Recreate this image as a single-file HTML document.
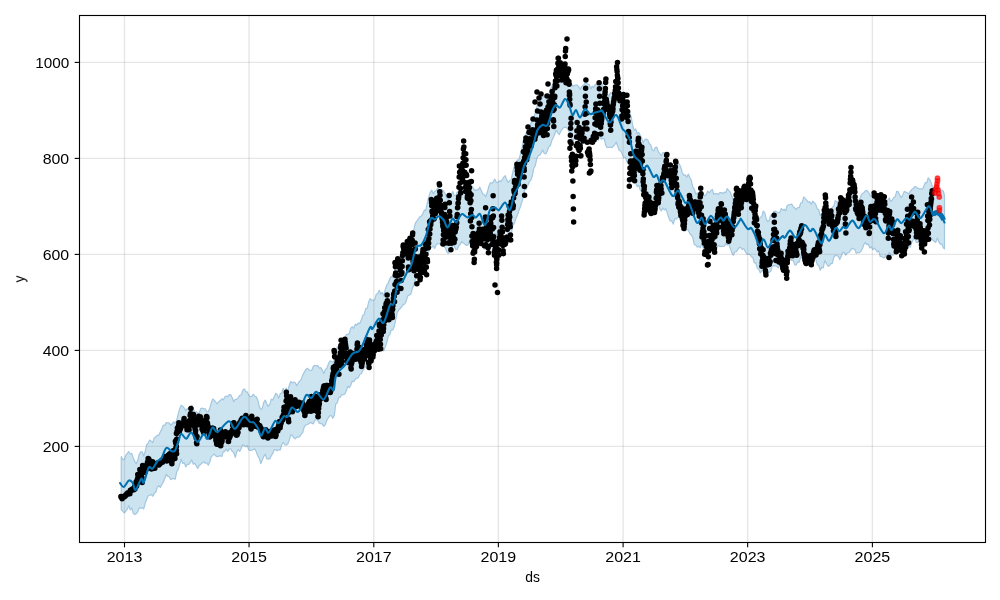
<!DOCTYPE html>
<html><head><meta charset="utf-8"><style>html,body{margin:0;padding:0;background:#fff;overflow:hidden}svg{display:block}</style></head><body>
<svg width="1000" height="600" viewBox="0 0 1000 600"><rect x="0" y="0" width="1000" height="600" fill="#ffffff"/>
<path d="M121.25 456.56 L122.75 459.6 L124.25 459.52 L125.75 455.5 L127.25 453.48 L128.75 451.71 L130.25 454.03 L131.75 453.46 L133.25 457.88 L134.75 461.28 L136.25 463.8 L137.75 460.3 L139.25 454.17 L140.75 451.9 L142.25 451.85 L143.75 456.11 L145.25 451.21 L146.75 444.56 L148.25 442.79 L149.75 440.02 L151.25 441.13 L152.75 442.66 L154.25 437.91 L155.75 436.82 L157.25 435.4 L158.75 435.36 L160.25 431.99 L161.75 429.14 L163.25 425.42 L164.75 425.39 L166.25 422.65 L167.75 422.76 L169.25 423.15 L170.75 425.2 L172.25 423.78 L173.75 421.8 L175.25 423.54 L176.75 420.07 L178.25 413.91 L179.75 408.4 L181.25 405.29 L182.75 406.31 L184.25 408.12 L185.75 410.77 L187.25 408.65 L188.75 408.84 L190.25 408.15 L191.75 405.28 L193.25 407.89 L194.75 412.78 L196.25 411.6 L197.75 413.4 L199.25 413.01 L200.75 408.48 L202.25 408.13 L203.75 408.74 L205.25 408.82 L206.75 411.53 L208.25 411.82 L209.75 408.34 L211.25 402.84 L212.75 398.98 L214.25 400.11 L215.75 402.08 L217.25 403.98 L218.75 401.52 L220.25 400.54 L221.75 398.79 L223.25 399.96 L224.75 396.95 L226.25 396.02 L227.75 396.73 L229.25 394.7 L230.75 394.83 L232.25 397.76 L233.75 401.7 L235.25 399.31 L236.75 399.5 L238.25 397.54 L239.75 395.44 L241.25 394.88 L242.75 390.2 L244.25 388.83 L245.75 391.64 L247.25 391.95 L248.75 395.27 L250.25 396.49 L251.75 396.58 L253.25 394.22 L254.75 396.2 L256.25 396.76 L257.75 399.98 L259.25 406.29 L260.75 409.44 L262.25 408.6 L263.75 402.37 L265.25 400.06 L266.75 403.7 L268.25 406.41 L269.75 404.37 L271.25 399.17 L272.75 400.1 L274.25 396.7 L275.75 393.21 L277.25 394.62 L278.75 398.18 L280.25 393.61 L281.75 392.98 L283.25 388.29 L284.75 391.2 L286.25 388.13 L287.75 391.48 L289.25 385.5 L290.75 381.33 L292.25 382.85 L293.75 382.07 L295.25 382.84 L296.75 385.75 L298.25 382.93 L299.75 381.12 L301.25 379.44 L302.75 375.13 L304.25 372.36 L305.75 369.62 L307.25 368.27 L308.75 369.56 L310.25 370.58 L311.75 370.22 L313.25 366.44 L314.75 365.32 L316.25 365.89 L317.75 365.63 L319.25 368.14 L320.75 367.67 L322.25 369.79 L323.75 373.6 L325.25 369.82 L326.75 368.5 L328.25 364.33 L329.75 361.03 L331.25 361.12 L332.75 362.24 L334.25 360.88 L335.75 352.95 L337.25 347.12 L338.75 346.64 L340.25 341.76 L341.75 339.83 L343.25 338.12 L344.75 339.54 L346.25 334.6 L347.75 334.58 L349.25 333.31 L350.75 328.14 L352.25 326.68 L353.75 328.41 L355.25 324.16 L356.75 325.12 L358.25 323.11 L359.75 323.56 L361.25 320.32 L362.75 315.3 L364.25 314.46 L365.75 308.5 L367.25 308.19 L368.75 301.68 L370.25 298.6 L371.75 300.36 L373.25 300.21 L374.75 299.55 L376.25 294.21 L377.75 293.66 L379.25 290.32 L380.75 294.08 L382.25 292.49 L383.75 296.09 L385.25 289.47 L386.75 285.19 L388.25 282.7 L389.75 278.93 L391.25 276.56 L392.75 277.2 L394.25 272.53 L395.75 264.77 L397.25 258.42 L398.75 258.2 L400.25 255.94 L401.75 254.14 L403.25 251.65 L404.75 250.78 L406.25 245.38 L407.75 245.75 L409.25 242.74 L410.75 238.81 L412.25 234.03 L413.75 230.08 L415.25 223.31 L416.75 221.16 L418.25 219.08 L419.75 216.79 L421.25 216.11 L422.75 213.92 L424.25 210.17 L425.75 210.63 L427.25 203.04 L428.75 197.09 L430.25 192.29 L431.75 190.14 L433.25 193.83 L434.75 191.18 L436.25 190.51 L437.75 187.89 L439.25 189.51 L440.75 189.43 L442.25 189.7 L443.75 191.19 L445.25 193.98 L446.75 198.14 L448.25 199.56 L449.75 197.66 L451.25 194.89 L452.75 191.51 L454.25 195.63 L455.75 195.99 L457.25 191.83 L458.75 193.06 L460.25 190.05 L461.75 186.09 L463.25 187.54 L464.75 189.92 L466.25 189.99 L467.75 191.18 L469.25 188.44 L470.75 187.26 L472.25 186.39 L473.75 189.15 L475.25 190.52 L476.75 189.8 L478.25 189.84 L479.75 187.23 L481.25 190.45 L482.75 194.09 L484.25 194.48 L485.75 196.76 L487.25 192.31 L488.75 186.72 L490.25 182.78 L491.75 183.3 L493.25 182 L494.75 179.07 L496.25 182.35 L497.75 182.52 L499.25 180.75 L500.75 181.57 L502.25 179.71 L503.75 177.14 L505.25 175.73 L506.75 179.86 L508.25 182.48 L509.75 180.5 L511.25 179.72 L512.75 172.47 L514.25 166.22 L515.75 163.23 L517.25 159.92 L518.75 160.49 L520.25 154.66 L521.75 149.25 L523.25 140.67 L524.75 137.65 L526.25 132.96 L527.75 132.16 L529.25 127.04 L530.75 124.07 L532.25 118.93 L533.75 117.62 L535.25 112.75 L536.75 107.39 L538.25 101.69 L539.75 102.94 L541.25 98.64 L542.75 97.01 L544.25 96.25 L545.75 97.06 L547.25 96.9 L548.75 94.3 L550.25 89.19 L551.75 86.94 L553.25 82.5 L554.75 81.72 L556.25 79.12 L557.75 80.12 L559.25 81.14 L560.75 78.28 L562.25 78.55 L563.75 74 L565.25 71.49 L566.75 76.72 L568.25 77.56 L569.75 80.4 L571.25 82.96 L572.75 86.36 L574.25 85.49 L575.75 85.14 L577.25 85.12 L578.75 86.8 L580.25 89.38 L581.75 86.38 L583.25 85.28 L584.75 83.52 L586.25 82.87 L587.75 84.21 L589.25 84.32 L590.75 88.83 L592.25 86.34 L593.75 87.47 L595.25 84.43 L596.75 84.62 L598.25 86.68 L599.75 85.95 L601.25 82.19 L602.75 86.4 L604.25 87.49 L605.75 89.07 L607.25 93.43 L608.75 96.52 L610.25 92.85 L611.75 93.03 L613.25 93.23 L614.75 90.29 L616.25 87.81 L617.75 89.27 L619.25 93.42 L620.75 98.54 L622.25 99.56 L623.75 103.6 L625.25 102.98 L626.75 107.42 L628.25 109.45 L629.75 113.01 L631.25 117.13 L632.75 126.02 L634.25 130.22 L635.75 128.98 L637.25 133.78 L638.75 132.51 L640.25 135.26 L641.75 138.33 L643.25 142.82 L644.75 139.82 L646.25 139.1 L647.75 140.07 L649.25 143.4 L650.75 144.93 L652.25 149.79 L653.75 150.88 L655.25 147.5 L656.75 147.21 L658.25 151.5 L659.75 153.71 L661.25 155.72 L662.75 152.83 L664.25 152.63 L665.75 155.03 L667.25 157.38 L668.75 163.77 L670.25 165.76 L671.75 169.34 L673.25 166.77 L674.75 167.94 L676.25 166.29 L677.75 163.72 L679.25 164 L680.75 167.11 L682.25 172.7 L683.75 175.36 L685.25 174.92 L686.75 177.25 L688.25 174.14 L689.75 177.15 L691.25 180.2 L692.75 187.13 L694.25 188.84 L695.75 194.24 L697.25 192.9 L698.75 195.3 L700.25 193.04 L701.75 189.89 L703.25 195.66 L704.75 195.65 L706.25 194.58 L707.75 191.03 L709.25 192.88 L710.75 190.82 L712.25 189.34 L713.75 194.29 L715.25 193.55 L716.75 193.59 L718.25 194.53 L719.75 192.71 L721.25 192.51 L722.75 193.55 L724.25 192.08 L725.75 192.65 L727.25 188.61 L728.75 190.6 L730.25 192.08 L731.75 195.78 L733.25 200.66 L734.75 198.75 L736.25 196.07 L737.75 196.83 L739.25 192.8 L740.75 193.17 L742.25 194.99 L743.75 196.86 L745.25 199.88 L746.75 200.92 L748.25 202.67 L749.75 200.25 L751.25 199.57 L752.75 204.2 L754.25 206.16 L755.75 209.84 L757.25 214.78 L758.75 219.19 L760.25 217.28 L761.75 216.75 L763.25 211.09 L764.75 212.59 L766.25 219.14 L767.75 221.74 L769.25 220.2 L770.75 215.03 L772.25 215.56 L773.75 211.52 L775.25 211.12 L776.75 212.04 L778.25 212.42 L779.75 212.67 L781.25 208.35 L782.75 210.16 L784.25 209.3 L785.75 210.76 L787.25 205.47 L788.75 204.86 L790.25 204.49 L791.75 204.05 L793.25 206.79 L794.75 208 L796.25 209.67 L797.75 207.57 L799.25 207.5 L800.75 203 L802.25 202.3 L803.75 196.82 L805.25 198.61 L806.75 200.21 L808.25 202.12 L809.75 201.84 L811.25 204.25 L812.75 201.09 L814.25 202.75 L815.75 204.5 L817.25 208.89 L818.75 209.81 L820.25 215.61 L821.75 213.69 L823.25 213.73 L824.75 208.46 L826.25 211.47 L827.75 213.28 L829.25 214.84 L830.75 212.14 L832.25 207.43 L833.75 206.28 L835.25 200.57 L836.75 202.13 L838.25 201.64 L839.75 204.83 L841.25 200.06 L842.75 201.44 L844.25 201.83 L845.75 201.35 L847.25 200.46 L848.75 197.75 L850.25 195.97 L851.75 194.27 L853.25 192.4 L854.75 196.25 L856.25 199.26 L857.75 199.72 L859.25 200.15 L860.75 196.13 L862.25 193.47 L863.75 192.81 L865.25 190.87 L866.75 190.47 L868.25 192.01 L869.75 194.5 L871.25 196.26 L872.75 195.1 L874.25 193.8 L875.75 192.23 L877.25 195.89 L878.75 200.1 L880.25 201.89 L881.75 201.06 L883.25 206.44 L884.75 206.34 L886.25 203.74 L887.75 200.11 L889.25 198.02 L890.75 201.42 L892.25 200.22 L893.75 197.59 L895.25 196.69 L896.75 191.26 L898.25 191.85 L899.75 195.42 L901.25 197.74 L902.75 194.95 L904.25 191.36 L905.75 192.17 L907.25 192.76 L908.75 194.12 L910.25 191.41 L911.75 189.52 L913.25 188.6 L914.75 186.68 L916.25 186.9 L917.75 188.32 L919.25 188.78 L920.75 188.83 L922.25 189.21 L923.75 186.58 L925.25 182.72 L926.75 182.83 L928.25 177.79 L929.75 179.53 L931.25 183.07 L932.75 187.69 L934.25 187.89 L935.75 184.89 L937.25 184.51 L938.75 185.28 L940.25 190.57 L941.75 190.38 L943.25 191.01 L944.5 195.77 L944.5 248.84 L943.25 247.79 L941.75 243.78 L940.25 244.18 L938.75 241.67 L937.25 238.1 L935.75 242.42 L934.25 241.24 L932.75 239.99 L931.25 238.65 L929.75 234.63 L928.25 233.34 L926.75 234.06 L925.25 237.14 L923.75 242.26 L922.25 242.4 L920.75 243.34 L919.25 241.41 L917.75 242.66 L916.25 242.41 L914.75 238.19 L913.25 239.54 L911.75 242.35 L910.25 247.19 L908.75 246.31 L907.25 244.41 L905.75 245.13 L904.25 249.27 L902.75 250.28 L901.25 250.34 L899.75 248.21 L898.25 247.68 L896.75 247.97 L895.25 251.64 L893.75 255 L892.25 254.86 L890.75 254.6 L889.25 252.26 L887.75 255.95 L886.25 254.78 L884.75 257.61 L883.25 257.82 L881.75 256.31 L880.25 256.51 L878.75 250.8 L877.25 251.93 L875.75 249.69 L874.25 248.16 L872.75 249.71 L871.25 246.67 L869.75 247.94 L868.25 244 L866.75 244.66 L865.25 242.43 L863.75 244.75 L862.25 249.01 L860.75 251.46 L859.25 252.54 L857.75 252.49 L856.25 253.33 L854.75 249.14 L853.25 249.02 L851.75 248.23 L850.25 251 L848.75 252.46 L847.25 253.05 L845.75 255.13 L844.25 252.66 L842.75 252.28 L841.25 256.35 L839.75 259.59 L838.25 256.18 L836.75 255.54 L835.25 255.36 L833.75 257.43 L832.25 263.38 L830.75 263.66 L829.25 265.91 L827.75 266.03 L826.25 263.1 L824.75 260.57 L823.25 267.87 L821.75 267.38 L820.25 270.33 L818.75 265.49 L817.25 264.67 L815.75 259.1 L814.25 257.33 L812.75 257.43 L811.25 259.44 L809.75 258.2 L808.25 254.81 L806.75 256.31 L805.25 254.36 L803.75 254.76 L802.25 253.99 L800.75 256.27 L799.25 262.08 L797.75 261.83 L796.25 264.79 L794.75 264.84 L793.25 260.23 L791.75 260.39 L790.25 256.08 L788.75 259.55 L787.25 259.64 L785.75 263.68 L784.25 262.82 L782.75 261.99 L781.25 263.74 L779.75 264.7 L778.25 267.94 L776.75 266.32 L775.25 265.78 L773.75 265.63 L772.25 265.86 L770.75 271.31 L769.25 272.36 L767.75 273.29 L766.25 271.42 L764.75 266.9 L763.25 266.2 L761.75 271.07 L760.25 272.79 L758.75 269.28 L757.25 268.1 L755.75 262.62 L754.25 262.79 L752.75 257.1 L751.25 256.79 L749.75 254.24 L748.25 254.3 L746.75 254.07 L745.25 251.48 L743.75 248.47 L742.25 249.42 L740.75 247.41 L739.25 247.6 L737.75 249.68 L736.25 251.84 L734.75 251.96 L733.25 255.12 L731.75 252.66 L730.25 248.36 L728.75 243.8 L727.25 245.06 L725.75 243.56 L724.25 246.26 L722.75 246.32 L721.25 246.29 L719.75 246.43 L718.25 245.25 L716.75 247.87 L715.25 246.96 L713.75 248.28 L712.25 244.4 L710.75 240.78 L709.25 245.63 L707.75 248.34 L706.25 248.4 L704.75 251.65 L703.25 248.16 L701.75 243.6 L700.25 247.7 L698.75 246.38 L697.25 247.03 L695.75 245.05 L694.25 244.6 L692.75 237.32 L691.25 234.95 L689.75 233.55 L688.25 230 L686.75 229.54 L685.25 230.96 L683.75 226.03 L682.25 223.04 L680.75 221.42 L679.25 217.27 L677.75 217.53 L676.25 219.03 L674.75 218.8 L673.25 224.07 L671.75 220.69 L670.25 220.92 L668.75 217.71 L667.25 212.84 L665.75 208.63 L664.25 209.98 L662.75 207.92 L661.25 210.97 L659.75 208.57 L658.25 204.15 L656.75 204.1 L655.25 203.87 L653.75 202.29 L652.25 200.9 L650.75 197.61 L649.25 197.14 L647.75 191.94 L646.25 193.46 L644.75 192.98 L643.25 197.96 L641.75 191.61 L640.25 190.04 L638.75 185.26 L637.25 186.65 L635.75 183.03 L634.25 182.43 L632.75 178.64 L631.25 171.83 L629.75 164.41 L628.25 162.72 L626.75 161.68 L625.25 156.8 L623.75 157.87 L622.25 154.11 L620.75 151.04 L619.25 150.45 L617.75 146.54 L616.25 142.23 L614.75 144.81 L613.25 146.26 L611.75 147.73 L610.25 147.05 L608.75 147.33 L607.25 147.56 L605.75 145.43 L604.25 138.9 L602.75 138.54 L601.25 139.17 L599.75 136.21 L598.25 140.22 L596.75 138.82 L595.25 138.33 L593.75 138.63 L592.25 140.9 L590.75 139.13 L589.25 139.27 L587.75 138.04 L586.25 137.36 L584.75 136.04 L583.25 140.68 L581.75 140.46 L580.25 142.28 L578.75 140.36 L577.25 137.76 L575.75 139.54 L574.25 138.27 L572.75 143.43 L571.25 136.94 L569.75 133.68 L568.25 130 L566.75 127.57 L565.25 127.43 L563.75 127.44 L562.25 129.04 L560.75 131.24 L559.25 134.67 L557.75 132.88 L556.25 130.17 L554.75 134 L553.25 137.75 L551.75 140.62 L550.25 145.76 L548.75 146.89 L547.25 150.97 L545.75 153.92 L544.25 153.47 L542.75 150.01 L541.25 152.93 L539.75 155.14 L538.25 155.78 L536.75 158.7 L535.25 165.81 L533.75 168.45 L532.25 176.23 L530.75 180.37 L529.25 181.94 L527.75 185.5 L526.25 189.11 L524.75 189.62 L523.25 197.6 L521.75 202.44 L520.25 207.29 L518.75 210.88 L517.25 215.61 L515.75 218.86 L514.25 223.46 L512.75 225.67 L511.25 234.37 L509.75 236.44 L508.25 236.29 L506.75 230.8 L505.25 228.2 L503.75 230.91 L502.25 232.02 L500.75 235.66 L499.25 235.67 L497.75 234.07 L496.25 234.42 L494.75 233.54 L493.25 233.52 L491.75 236.64 L490.25 237.68 L488.75 240.23 L487.25 247.34 L485.75 248.45 L484.25 249.32 L482.75 245.96 L481.25 241.84 L479.75 241.37 L478.25 243.62 L476.75 241.66 L475.25 244.76 L473.75 243.46 L472.25 243.6 L470.75 242.26 L469.25 241.56 L467.75 245.23 L466.25 245.35 L464.75 244.01 L463.25 243 L461.75 241.78 L460.25 244.4 L458.75 245.89 L457.25 249.31 L455.75 249.63 L454.25 245.96 L452.75 245.23 L451.25 249.61 L449.75 251.26 L448.25 253.32 L446.75 251.82 L445.25 247.9 L443.75 246.56 L442.25 244.84 L440.75 244.77 L439.25 243.64 L437.75 243.57 L436.25 244.72 L434.75 248.36 L433.25 245.95 L431.75 247.22 L430.25 247.56 L428.75 251.82 L427.25 256.87 L425.75 263.75 L424.25 267.5 L422.75 267.52 L421.25 273.06 L419.75 271.12 L418.25 272.83 L416.75 274.85 L415.25 279.46 L413.75 285.37 L412.25 288.53 L410.75 294.31 L409.25 295.03 L407.75 296.1 L406.25 300.64 L404.75 303.97 L403.25 304.62 L401.75 306.69 L400.25 308.52 L398.75 310.14 L397.25 312.39 L395.75 319.44 L394.25 326.76 L392.75 329.93 L391.25 329.95 L389.75 334.58 L388.25 336.19 L386.75 342.7 L385.25 346.87 L383.75 350.83 L382.25 350.3 L380.75 346.92 L379.25 344.18 L377.75 348.23 L376.25 351.59 L374.75 351.09 L373.25 356.36 L371.75 353.75 L370.25 355.85 L368.75 356.39 L367.25 362.99 L365.75 366.55 L364.25 367.97 L362.75 370.68 L361.25 373.82 L359.75 374.47 L358.25 377.65 L356.75 378.34 L355.25 379.35 L353.75 381.71 L352.25 381.07 L350.75 385.37 L349.25 387.68 L347.75 386.3 L346.25 391.08 L344.75 394.03 L343.25 394.75 L341.75 394.57 L340.25 397.17 L338.75 397.55 L337.25 402.81 L335.75 403.94 L334.25 415.66 L332.75 418.28 L331.25 415.48 L329.75 415.82 L328.25 417.86 L326.75 420.44 L325.25 424.69 L323.75 426.43 L322.25 423.92 L320.75 423.67 L319.25 423.15 L317.75 420.48 L316.25 419.15 L314.75 420.64 L313.25 423.94 L311.75 423.09 L310.25 422.36 L308.75 423.69 L307.25 424.46 L305.75 425.03 L304.25 426.82 L302.75 432.55 L301.25 434.14 L299.75 436.64 L298.25 437.11 L296.75 437.04 L295.25 438.77 L293.75 437.86 L292.25 435.43 L290.75 434.82 L289.25 440.38 L287.75 444.06 L286.25 445.12 L284.75 444.77 L283.25 442.4 L281.75 444.54 L280.25 450.01 L278.75 449.64 L277.25 450.68 L275.75 449.89 L274.25 449.5 L272.75 453.54 L271.25 455.71 L269.75 459.02 L268.25 458.82 L266.75 458.91 L265.25 454.09 L263.75 456.4 L262.25 460 L260.75 463.67 L259.25 458.05 L257.75 455.89 L256.25 451.86 L254.75 448.76 L253.25 449.5 L251.75 450.24 L250.25 450.29 L248.75 450.03 L247.25 445.48 L245.75 446.73 L244.25 445.5 L242.75 444.67 L241.25 448.15 L239.75 451.42 L238.25 449.27 L236.75 451.83 L235.25 457.4 L233.75 452.76 L232.25 451.41 L230.75 448.9 L229.25 448.78 L227.75 451.37 L226.25 448.96 L224.75 451.37 L223.25 451.91 L221.75 456.52 L220.25 455.7 L218.75 456.18 L217.25 456.71 L215.75 455.87 L214.25 454.14 L212.75 455.31 L211.25 456.87 L209.75 462 L208.25 465.29 L206.75 462.79 L205.25 463.27 L203.75 461.59 L202.25 463 L200.75 464.31 L199.25 465.57 L197.75 468.51 L196.25 465.84 L194.75 463.23 L193.25 464.2 L191.75 459.88 L190.25 462.35 L188.75 464.31 L187.25 464.28 L185.75 466.88 L184.25 462.64 L182.75 463.43 L181.25 459.07 L179.75 464.33 L178.25 469.16 L176.75 471.71 L175.25 479.06 L173.75 478.62 L172.25 478.62 L170.75 479.66 L169.25 476.61 L167.75 476.32 L166.25 474.18 L164.75 478.55 L163.25 482.19 L161.75 484.63 L160.25 487.48 L158.75 485.57 L157.25 487.45 L155.75 492.36 L154.25 493.36 L152.75 496.24 L151.25 494.45 L149.75 495.21 L148.25 495.68 L146.75 499.21 L145.25 503.08 L143.75 508.94 L142.25 507.61 L140.75 508.14 L139.25 508.05 L137.75 511.79 L136.25 513.71 L134.75 514.49 L133.25 513.28 L131.75 507.9 L130.25 509.8 L128.75 505.8 L127.25 509.23 L125.75 511.47 L124.25 512.77 L122.75 511.05 L121.25 509.8 Z" fill="#cce3f0" stroke="#a3c7e0" stroke-width="1.2" stroke-linejoin="round"/>
<g stroke="#808080" stroke-opacity="0.2" stroke-width="1.39"><line x1="124.5" y1="15.5" x2="124.5" y2="542.5"/><line x1="249.06" y1="15.5" x2="249.06" y2="542.5"/><line x1="373.8" y1="15.5" x2="373.8" y2="542.5"/><line x1="498.36" y1="15.5" x2="498.36" y2="542.5"/><line x1="623.1" y1="15.5" x2="623.1" y2="542.5"/><line x1="747.66" y1="15.5" x2="747.66" y2="542.5"/><line x1="872.4" y1="15.5" x2="872.4" y2="542.5"/><line x1="79.5" y1="446.4" x2="985.5" y2="446.4"/><line x1="79.5" y1="350.4" x2="985.5" y2="350.4"/><line x1="79.5" y1="254.4" x2="985.5" y2="254.4"/><line x1="79.5" y1="158.4" x2="985.5" y2="158.4"/><line x1="79.5" y1="62.4" x2="985.5" y2="62.4"/></g>
<path d="M120.9 496.58h.01M121.14 497.33h.01M121.38 497.1h.01M121.62 497.53h.01M121.86 497.21h.01M122.1 498.86h.01M122.25 496.96h.01M122.5 496.88h.01M122.75 497.17h.01M123 496.46h.01M123.25 497.5h.01M123.5 497.33h.01M123.75 497.37h.01M123.73 497.08h.01M123.99 496.94h.01M124.25 496.79h.01M124.5 496.57h.01M124.75 496.46h.01M125.01 496.14h.01M125.27 495.85h.01M125.56 495.82h.01M125.83 495.22h.01M126.09 494.58h.01M126.36 494.94h.01M126.62 494.09h.01M126.89 494.25h.01M127.16 494.08h.01M127.42 493.83h.01M127.69 494.21h.01M127.62 492.89h.01M127.88 492.81h.01M128.12 492.79h.01M128.38 493.04h.01M128.62 492.92h.01M128.88 492.89h.01M129.12 493.11h.01M129.38 492.83h.01M129.62 493.2h.01M129.88 493.76h.01M130.09 492.15h.01M130.31 490.36h.01M130.57 490.66h.01M130.83 490.06h.01M131.09 489.95h.01M131.35 489.86h.01M131.61 490.45h.01M131.88 489.31h.01M132.14 489.34h.01M132.4 489.23h.01M132.66 488.69h.01M132.92 489.43h.01M133.18 488.85h.01M133.44 489.01h.01M133.68 489.3h.01M133.92 489.77h.01M134.16 488.21h.01M134.4 489.25h.01M134.64 486.59h.01M134.88 489.09h.01M135.12 486.69h.01M135.36 485.42h.01M135.6 484.18h.01M135.84 484.4h.01M136.08 482.14h.01M136.29 481.5h.01M136.5 486.25h.01M136.75 484.29h.01M137 484.03h.01M137.25 482.77h.01M137.5 478.68h.01M137.75 474.42h.01M138 476.92h.01M138.25 476.76h.01M138.5 474.17h.01M138.75 477.11h.01M139 476.79h.01M139.25 474.35h.01M139.5 475.38h.01M139.83 469.49h.01M140.09 469.84h.01M140.35 471.9h.01M140.61 473.39h.01M140.87 472.93h.01M141.13 473.81h.01M141.39 476.6h.01M141.65 480.23h.01M141.91 477.47h.01M142.17 482.51h.01M142.4 468.7h.01M142.62 465.38h.01M142.86 469.53h.01M143.09 467.29h.01M143.32 468.87h.01M143.55 470.36h.01M143.79 472.45h.01M144.02 469.66h.01M144.25 471.1h.01M144.48 470.47h.01M144.71 470.48h.01M144.95 472.2h.01M145.18 467.79h.01M145.41 468.11h.01M145.64 466.69h.01M145.88 465.9h.01M146.12 467.75h.01M146.38 468.15h.01M146.62 468.96h.01M146.88 464.79h.01M147.12 464.33h.01M147.38 462.79h.01M147.62 462.84h.01M147.88 461.26h.01M148.12 458.44h.01M148.38 459.51h.01M148.62 458.85h.01M148.84 459.36h.01M149.06 459.76h.01M149.32 460.93h.01M149.58 461.53h.01M149.84 462.35h.01M150.1 464.22h.01M150.36 465.56h.01M150.62 466.98h.01M150.89 467.73h.01M151.15 466.85h.01M151.41 468.9h.01M151.67 467.9h.01M151.93 467.47h.01M152.19 468.85h.01M152.41 466.25h.01M152.62 461.8h.01M152.88 462.45h.01M153.12 464.15h.01M153.38 465.32h.01M153.62 465.13h.01M153.88 467.05h.01M154.12 465.75h.01M154.38 467.73h.01M154.62 468.21h.01M154.88 468.21h.01M155.09 465.99h.01M155.31 465.38h.01M155.57 466.1h.01M155.83 465.12h.01M156.09 465.1h.01M156.35 465.32h.01M156.61 465.16h.01M156.88 464.71h.01M157.14 465.06h.01M157.4 464.43h.01M157.66 462.97h.01M157.92 463.41h.01M158.18 462.71h.01M158.44 463.32h.01M158.68 463.93h.01M158.92 464.89h.01M159.16 464.33h.01M159.4 463.94h.01M159.64 463.54h.01M159.88 463.99h.01M160.12 462.98h.01M160.36 462.45h.01M160.6 462.65h.01M160.84 462.39h.01M161.08 461.69h.01M161.29 460.73h.01M161.5 461.08h.01M161.75 461.2h.01M162 459.9h.01M162.25 460.56h.01M162.5 462.22h.01M162.75 460.92h.01M163 460.61h.01M163.25 461.33h.01M163.5 460.26h.01M163.75 460.36h.01M164 458.26h.01M164.25 459.65h.01M164.5 458.65h.01M164.83 456.46h.01M165.09 456.97h.01M165.35 458.45h.01M165.61 458.15h.01M165.87 459.71h.01M166.13 459.45h.01M166.39 460.73h.01M166.65 459.79h.01M166.91 461.1h.01M167.17 460.78h.01M167.4 459.25h.01M167.62 456.55h.01M167.86 456.78h.01M168.09 457.04h.01M168.32 455.01h.01M168.55 456.8h.01M168.79 456.98h.01M169.02 455.52h.01M169.25 456.56h.01M169.48 453.88h.01M169.71 454.81h.01M169.95 454.43h.01M170.18 453.57h.01M170.41 456.07h.01M170.64 454.97h.01M170.88 454.14h.01M171.12 455.85h.01M171.37 460.35h.01M171.62 461.93h.01M171.87 463.67h.01M172.12 460.83h.01M172.37 458.57h.01M172.63 456.4h.01M172.88 454.8h.01M173.13 450.75h.01M173.38 455.5h.01M173.59 455.87h.01M173.81 454.42h.01M174.03 451.86h.01M174.25 453.18h.01M174.47 452.28h.01M174.69 452.45h.01M174.91 458.61h.01M175.12 455.17h.01M175.4 441.2h.01M175.64 443.12h.01M175.88 447.59h.01M176.12 449.98h.01M176.36 450.33h.01M176.6 453.87h.01M176.38 446.38h.01M176.56 441.83h.01M176.75 439.17h.01M176.94 439.27h.01M177.12 432.2h.01M176.15 440.14h.01M176.4 433.5h.01M176.64 433.45h.01M176.89 431.89h.01M177.13 431.31h.01M177.38 428.04h.01M177.62 427.96h.01M177.87 428.76h.01M178.11 428.2h.01M178.36 427.35h.01M178.6 425.52h.01M178.85 422.67h.01M179.11 427.1h.01M179.38 431.33h.01M179.61 428.81h.01M179.84 429.97h.01M180.08 429.4h.01M180.31 428.27h.01M180.55 427.58h.01M180.78 427.98h.01M181.02 425.35h.01M181.25 424.37h.01M181.48 426.09h.01M181.72 425.91h.01M181.95 423.42h.01M182.19 425.11h.01M182.42 424.56h.01M182.66 423.7h.01M182.89 424.06h.01M183.12 423.54h.01M183.37 422.41h.01M183.61 422.2h.01M183.86 420.29h.01M184.1 418.38h.01M184.36 420.93h.01M184.61 422.51h.01M184.87 422.85h.01M185.13 424.62h.01M185.39 425.15h.01M185.64 425.22h.01M185.9 425.17h.01M186.25 426.52h.01M186.5 426.18h.01M186.75 427.35h.01M187 429.71h.01M187.25 425.04h.01M187.5 426.16h.01M187.75 428.28h.01M188 427.87h.01M188.25 425.26h.01M188.5 425.31h.01M188.75 425.2h.01M189.1 429.8h.01M189.36 423.73h.01M189.61 420.59h.01M189.87 420.54h.01M190.13 415.48h.01M190.39 413.92h.01M190.64 413.58h.01M190.9 408.62h.01M191.25 424.95h.01M191.5 423.97h.01M191.75 421.14h.01M192 421.62h.01M192.25 420.88h.01M192.5 416.73h.01M192.75 418.32h.01M193 418.48h.01M193.25 419.76h.01M193.5 420.14h.01M193.75 418.87h.01M193.2 417.77h.01M193.44 414.46h.01M193.68 418.2h.01M193.92 421.43h.01M194.16 422.03h.01M194.4 423.08h.01M194.64 425.57h.01M194.88 427.59h.01M195.12 429.34h.01M195.36 432.51h.01M195.6 430.47h.01M195.84 435.19h.01M196.08 436.19h.01M196.32 438.29h.01M196.56 442.78h.01M196.8 443.66h.01M197.03 436.48h.01M197.27 425.06h.01M197.5 422.71h.01M197.75 418.88h.01M198 419.31h.01M198.25 419.41h.01M198.5 422.22h.01M198.75 416.25h.01M199 420.26h.01M199.25 420.38h.01M199.5 418.98h.01M199.75 417.38h.01M200 418.14h.01M200.25 416.84h.01M200.5 418.94h.01M200.75 421.09h.01M201 420.7h.01M201.25 422.98h.01M201.5 425.13h.01M201.75 425.37h.01M202 428.91h.01M202.25 428.39h.01M202.5 428.69h.01M202.73 430.53h.01M202.97 430.87h.01M203.2 430.94h.01M203.44 432.11h.01M203.68 432.68h.01M203.92 428.17h.01M204.16 427.45h.01M204.4 426.22h.01M204.64 423.56h.01M204.88 425.73h.01M205.12 423.07h.01M205.36 423.68h.01M205.6 420.37h.01M205.84 419.47h.01M206.08 420.94h.01M206.32 416.94h.01M206.56 416.47h.01M206.8 416.75h.01M207.03 417.7h.01M207.27 422.8h.01M207.5 423.48h.01M207.75 425.4h.01M208 425.94h.01M208.25 429.01h.01M208.5 428.16h.01M208.75 428.75h.01M209 431.51h.01M209.25 434.08h.01M209.5 431.05h.01M209.75 436.96h.01M210 432.57h.01M210.25 433.43h.01M210.5 432.54h.01M210.75 435.92h.01M211 433.73h.01M211.25 433.05h.01M211.5 434.03h.01M211.75 432.98h.01M212 431.03h.01M212.25 429.92h.01M212.5 428.06h.01M212.73 431.51h.01M212.96 428.79h.01M213.19 428.45h.01M213.42 428.41h.01M213.65 428.62h.01M213.9 430.16h.01M214.14 431.46h.01M214.39 434.74h.01M214.63 434.51h.01M214.88 432.73h.01M215.12 436.45h.01M215.37 435.44h.01M215.61 436.25h.01M215.86 440.25h.01M216.1 439.6h.01M216.35 441.49h.01M216.61 443.8h.01M216.88 444.16h.01M217.11 442.73h.01M217.34 441.2h.01M217.58 438.41h.01M217.81 442.93h.01M218.05 440.18h.01M218.28 442.02h.01M218.52 442h.01M218.75 441.44h.01M218.98 441.99h.01M219.22 439.05h.01M219.45 437.56h.01M219.69 435.52h.01M219.92 436.73h.01M220.16 434.83h.01M220.39 430.11h.01M220.62 430.83h.01M220.5 445.68h.01M220.75 445.74h.01M221 441.34h.01M221.25 442.38h.01M221.5 442.46h.01M221.75 441.2h.01M222 441.19h.01M222.25 439.34h.01M222.5 435.2h.01M222.75 436.29h.01M223 437.57h.01M223.25 437.48h.01M223.5 435.27h.01M223.75 437.26h.01M224 433.72h.01M224.25 433.79h.01M224.5 433.34h.01M224.72 432.86h.01M224.95 434.81h.01M225.18 432.45h.01M225.4 431.66h.01M225.62 434.26h.01M225.87 432.84h.01M226.11 433.17h.01M226.35 434.57h.01M226.59 435.67h.01M226.83 435.21h.01M227.07 437.36h.01M227.31 435.22h.01M227.55 434.98h.01M227.79 436.52h.01M228.03 437.41h.01M228.27 441.46h.01M228.51 441.42h.01M228.75 438.99h.01M228.99 437.88h.01M229.23 437.4h.01M229.47 437.79h.01M229.71 435.49h.01M229.95 436.85h.01M230.19 434.65h.01M230.43 432.16h.01M230.67 432.8h.01M230.91 434.17h.01M231.15 434.53h.01M231.39 432.5h.01M231.63 431.7h.01M231.88 432.77h.01M232.14 433.25h.01M232.41 429.66h.01M232.67 425.2h.01M232.94 423.6h.01M233.2 424.81h.01M233.44 423.41h.01M233.68 422.85h.01M233.92 422.84h.01M234.16 424.38h.01M234.4 427.55h.01M234.64 427.45h.01M234.88 427.33h.01M235.12 429.04h.01M235.36 428.26h.01M235.6 431.61h.01M235.84 431.96h.01M236.08 433.44h.01M236.32 432.56h.01M236.56 435.24h.01M236.8 433.3h.01M237.03 435.01h.01M237.27 434.36h.01M237.5 432h.01M237.75 432.76h.01M238 432.51h.01M238.25 427.98h.01M238.5 427.5h.01M238.75 426.05h.01M239 427.65h.01M239.25 425.16h.01M239.5 423.23h.01M239.75 424.34h.01M240 422.16h.01M240.25 425.3h.01M240.5 422.52h.01M240.75 422.85h.01M241 420.74h.01M241.25 419.87h.01M241.5 421.31h.01M241.75 421.38h.01M242 419.06h.01M242.25 418.21h.01M242.5 418.69h.01M242.77 420.53h.01M243.03 420.15h.01M243.3 423.11h.01M243.57 423h.01M243.83 424.66h.01M244.1 423.31h.01M244.36 421.85h.01M244.61 421.19h.01M244.87 420.61h.01M245.13 421.16h.01M245.39 419.35h.01M245.64 418.04h.01M245.9 415.6h.01M246.25 422.76h.01M246.5 422.53h.01M246.75 423.49h.01M247 423.26h.01M247.25 422.85h.01M247.5 424.72h.01M247.75 424.82h.01M248 422.2h.01M248.25 422.62h.01M248.5 423.77h.01M248.75 421.54h.01M248.92 419.67h.01M249.16 418.61h.01M249.4 421.27h.01M249.64 420.49h.01M249.88 423.2h.01M250.12 423.19h.01M250.36 425.38h.01M250.6 424.93h.01M250.84 428.47h.01M251.08 428.91h.01M251.29 424.23h.01M251.5 418.25h.01M251.75 416.33h.01M252 418.92h.01M252.25 420.84h.01M252.5 420.34h.01M252.75 420.41h.01M253 421.97h.01M253.25 423.79h.01M253.5 423.28h.01M253.75 423.55h.01M254 422.99h.01M254.25 423.81h.01M254.5 426.16h.01M254.83 424.45h.01M255.09 423.7h.01M255.35 423.56h.01M255.61 422.04h.01M255.87 420.17h.01M256.13 421.21h.01M256.39 421.37h.01M256.65 419.86h.01M256.91 419.52h.01M257.17 419.34h.01M257.4 423.8h.01M257.62 425.3h.01M257.86 426.39h.01M258.09 427.13h.01M258.32 425.07h.01M258.55 426.16h.01M258.79 426.08h.01M259.02 426.62h.01M259.25 425.56h.01M259.48 425.53h.01M259.71 425.71h.01M259.95 426.2h.01M260.18 427.33h.01M260.41 427.48h.01M260.64 429.29h.01M260.88 429.6h.01M261.1 428.51h.01M261.33 431.52h.01M261.59 431.56h.01M261.85 430.36h.01M262.11 433.19h.01M262.37 434.16h.01M262.63 434.85h.01M262.89 434.37h.01M263.15 436.15h.01M263.41 436.72h.01M263.67 436.76h.01M263.9 435.41h.01M264.12 431.14h.01M264.36 431.5h.01M264.59 431.13h.01M264.82 432.28h.01M265.05 431.27h.01M265.29 430.31h.01M265.52 430.22h.01M265.75 429.7h.01M265.98 431.35h.01M266.21 432.23h.01M266.45 432.67h.01M266.68 435.62h.01M266.91 434.33h.01M267.14 434.8h.01M267.38 435.82h.01M267.65 436.39h.01M267.92 438.03h.01M268.16 436.56h.01M268.4 435.17h.01M268.64 435.26h.01M268.88 435.7h.01M269.12 434.46h.01M269.36 433.47h.01M269.6 433.5h.01M269.84 432.46h.01M270.08 431.45h.01M270.29 431.76h.01M270.5 433.54h.01M270.75 432.68h.01M271 433.63h.01M271.25 432.87h.01M271.5 433.54h.01M271.75 435.94h.01M272 432.93h.01M272.25 435.11h.01M272.5 434.25h.01M272.75 433.89h.01M273 432.87h.01M273.25 434.47h.01M273.5 432.94h.01M273.71 432.05h.01M273.92 430.78h.01M274.16 430.06h.01M274.4 430.74h.01M274.64 431.37h.01M274.88 431.72h.01M275.12 432.81h.01M275.36 434.63h.01M275.6 436.4h.01M275.84 435.22h.01M276.08 434.91h.01M276.29 432.56h.01M276.5 429.25h.01M276.75 430.25h.01M277 429.7h.01M277.25 430.45h.01M277.5 429.66h.01M277.75 430.9h.01M278 430.36h.01M278.25 427.1h.01M278.5 427.79h.01M278.75 425.62h.01M279 424.37h.01M279.25 423.88h.01M279.5 421.52h.01M279.83 426.66h.01M280.09 427.68h.01M280.35 425.67h.01M280.61 424.11h.01M280.87 422.12h.01M281.13 423.02h.01M281.39 421.03h.01M281.65 420.78h.01M281.91 419.92h.01M282.17 417.15h.01M282.4 419.96h.01M282.62 420.01h.01M282.86 419.64h.01M283.09 417.52h.01M283.32 414.92h.01M283.55 415.22h.01M283.79 410.65h.01M284.02 407.28h.01M284.25 407.25h.01M284.48 408.24h.01M284.71 409.23h.01M284.95 408.44h.01M285.18 409.22h.01M285.41 408.21h.01M285.64 411.16h.01M285.88 408.29h.01M286.1 400.91h.01M286.33 392.2h.01M286.59 395.69h.01M286.85 399.7h.01M287.11 401.75h.01M287.37 405.83h.01M287.63 410.02h.01M287.89 411.39h.01M288.15 413.06h.01M288.41 419.09h.01M288.67 421.73h.01M288.9 409.72h.01M289.12 400.37h.01M289.36 400.68h.01M289.59 403.97h.01M289.82 401.99h.01M290.05 401h.01M290.29 401.09h.01M290.52 396.63h.01M290.75 402.26h.01M290.98 403.89h.01M291.21 403.91h.01M291.45 404.84h.01M291.68 406.79h.01M291.91 411.09h.01M292.14 410.23h.01M292.38 411.79h.01M292.65 408.47h.01M292.92 408.65h.01M293.16 406.72h.01M293.4 405.73h.01M293.64 406.6h.01M293.88 403.88h.01M294.12 403.02h.01M294.36 401.59h.01M294.6 401.39h.01M294.84 401.7h.01M295.08 399.8h.01M295.29 403.79h.01M295.5 406.65h.01M295.75 405.12h.01M296 403.78h.01M296.25 406.42h.01M296.5 403.85h.01M296.75 403.41h.01M297 402.18h.01M297.25 404.28h.01M297.5 404.88h.01M297.75 405.09h.01M298 404.99h.01M298.25 404.79h.01M298.5 405.49h.01M298.71 403.97h.01M298.92 402.14h.01M299.16 403.39h.01M299.4 404.07h.01M299.64 403.77h.01M299.88 404.83h.01M300.12 404.86h.01M300.36 405.53h.01M300.6 406.58h.01M300.84 406.37h.01M301.08 407.12h.01M301.29 406.01h.01M301.5 404.98h.01M301.75 404.2h.01M302 405.33h.01M302.25 403.09h.01M302.5 406.78h.01M302.75 405.5h.01M303 404.98h.01M303.25 407.7h.01M303.5 409.19h.01M303.75 410.48h.01M304 410.64h.01M304.25 410.24h.01M304.5 412.27h.01M304.83 415.45h.01M305.09 413.72h.01M305.35 412.44h.01M305.61 412.62h.01M305.87 412.04h.01M306.13 408.27h.01M306.39 407.94h.01M306.65 408.21h.01M306.91 407.65h.01M307.17 407.38h.01M307.4 405.61h.01M307.62 411.32h.01M307.86 407.74h.01M308.09 403.93h.01M308.32 407.13h.01M308.55 404.8h.01M308.79 402.96h.01M309.02 402.63h.01M309.25 401.99h.01M309.48 401.51h.01M309.71 404.05h.01M309.95 403.42h.01M310.18 408.04h.01M310.41 408.55h.01M310.64 409.48h.01M310.88 411.28h.01M311.1 403.98h.01M311.33 396.39h.01M311.59 397.69h.01M311.85 398.34h.01M312.11 398.08h.01M312.37 402.28h.01M312.63 404.63h.01M312.89 406.52h.01M313.15 406.26h.01M313.41 410.49h.01M313.67 409.32h.01M313.9 403.12h.01M314.12 398.3h.01M314.36 399.25h.01M314.59 397.86h.01M314.82 396.85h.01M315.05 396.19h.01M315.29 400.56h.01M315.52 398.91h.01M315.75 400.08h.01M315.98 399.91h.01M316.21 403h.01M316.45 404.1h.01M316.68 405.5h.01M316.91 405.74h.01M317.14 407.29h.01M317.38 411.82h.01M317.65 409.99h.01M317.92 416.58h.01M318.16 416.66h.01M318.4 412.72h.01M318.64 408.57h.01M318.88 405.53h.01M319.12 401.58h.01M319.36 403.82h.01M319.6 397.35h.01M319.84 395.68h.01M320.08 394.86h.01M320.29 396.77h.01M320.5 398.96h.01M320.75 397.14h.01M321 397.33h.01M321.25 395.45h.01M321.5 396.78h.01M321.75 394.12h.01M322 394.8h.01M322.25 394.54h.01M322.5 393.92h.01M322.75 390.68h.01M323 390.65h.01M323.25 388.88h.01M323.5 387.42h.01M323.71 387.96h.01M323.92 386.01h.01M324.16 386.1h.01M324.4 388.87h.01M324.64 388.06h.01M324.88 390.54h.01M325.12 391.11h.01M325.36 394.15h.01M325.6 398.01h.01M325.84 398.35h.01M326.08 399.39h.01M326.29 393.19h.01M326.5 385.4h.01M326.75 386.97h.01M327 385.55h.01M327.25 388.46h.01M327.5 387.96h.01M327.75 390.39h.01M328 390.99h.01M328.25 390.48h.01M328.5 387.58h.01M328.75 390.95h.01M329 386.66h.01M329.25 386.39h.01M329.5 385.56h.01M329.76 387.34h.01M330.02 388.41h.01M330.28 392.59h.01M330.52 391.79h.01M330.76 388.76h.01M331 384.98h.01M331.24 384.51h.01M331.48 384.59h.01M331.72 380.71h.01M332 381.1h.01M332.25 378.69h.01M332.5 376.25h.01M332.75 375.43h.01M333 373.83h.01M333.25 368.29h.01M333.5 367.22h.01M333.75 370.51h.01M334 367.72h.01M334.1 350.44h.01M334.36 352.11h.01M334.61 356.48h.01M334.87 357.04h.01M335.13 365.99h.01M335.39 366.54h.01M335.64 369.9h.01M335.9 372.56h.01M336.25 373.53h.01M336.5 368.88h.01M336.75 366.52h.01M337 362.6h.01M337.25 361.22h.01M337.5 359.33h.01M337.75 361.28h.01M338 358.75h.01M338.25 358.64h.01M338.5 359.13h.01M338.75 359.46h.01M338.92 374.18h.01M339.16 365.63h.01M339.4 365.22h.01M339.64 363.95h.01M339.88 360.57h.01M340.12 355.56h.01M340.36 352.76h.01M340.6 347.82h.01M340.84 345.42h.01M341.08 340.19h.01M341.29 355.06h.01M341.5 364.78h.01M341.75 361.01h.01M342 357.77h.01M342.25 354.35h.01M342.5 351.81h.01M342.75 348.52h.01M343 348.21h.01M343.25 344.32h.01M343.5 344.79h.01M343.75 344.66h.01M344 345.61h.01M344.25 344.69h.01M344.5 345.14h.01M344.71 341.52h.01M344.92 339.14h.01M345.16 341.72h.01M345.4 343.71h.01M345.64 345.54h.01M345.88 347.38h.01M346.12 347.96h.01M346.36 353.52h.01M346.6 354.2h.01M346.84 357.52h.01M347.08 361.77h.01M347.29 357.83h.01M347.5 361.5h.01M347.75 360.94h.01M348 358.03h.01M348.25 360.73h.01M348.5 359.14h.01M348.75 362.63h.01M349 361.26h.01M349.25 362.41h.01M349.5 358.14h.01M349.75 358.71h.01M350 356.42h.01M350.25 352.12h.01M350.5 354.66h.01M350.71 360.04h.01M350.92 367.69h.01M351.16 368.99h.01M351.4 363.95h.01M351.64 362.11h.01M351.88 362.44h.01M352.12 359.57h.01M352.36 356.82h.01M352.6 358.09h.01M352.84 354.75h.01M353.08 353.7h.01M353.29 355.17h.01M353.5 353.8h.01M353.75 358.04h.01M354 353.6h.01M354.25 357.28h.01M354.5 358.16h.01M354.75 355.31h.01M355 358.9h.01M355.25 354.89h.01M355.5 359.23h.01M355.75 357.39h.01M356 356.63h.01M356.25 356.22h.01M356.5 355.48h.01M356.73 353.36h.01M356.96 349.09h.01M357.19 344.86h.01M357.42 343.11h.01M357.65 347.87h.01M357.88 348.8h.01M358.12 350.37h.01M358.35 350.45h.01M358.58 350.23h.01M358.81 352.37h.01M359.12 347.26h.01M359.35 352.46h.01M359.57 353.08h.01M359.8 353.69h.01M360.02 355.29h.01M360.25 360.42h.01M360.48 360.03h.01M360.7 355.93h.01M360.93 358.87h.01M361.15 362.63h.01M361.38 359.08h.01M361.51 366.48h.01M361.76 365.5h.01M362 363.37h.01M362.25 363.04h.01M362.5 360.18h.01M362.75 355.67h.01M363 355.11h.01M363.24 352.03h.01M363.49 349.66h.01M363.68 355.76h.01M363.88 359.16h.01M364.1 359.35h.01M364.33 358.82h.01M364.56 356.13h.01M364.79 356.48h.01M365.02 353.11h.01M365.25 353.81h.01M365.48 352.01h.01M365.71 350.91h.01M365.94 351.72h.01M366.17 348.43h.01M366.4 345.35h.01M366.62 344.51h.01M366.92 339.46h.01M367.16 343.49h.01M367.4 346.09h.01M367.64 348.23h.01M367.88 352.58h.01M368.12 353.3h.01M368.36 355.41h.01M368.6 362.31h.01M368.84 363.67h.01M369.08 367.56h.01M369.29 351.89h.01M369.5 340.02h.01M369.75 343.22h.01M370 346.62h.01M370.25 353.62h.01M370.5 353.09h.01M370.75 359.21h.01M371 360.91h.01M371.25 359.66h.01M371.5 353.85h.01M371.75 353.57h.01M372 351.21h.01M372.25 348.75h.01M372.5 346.52h.01M372.71 352.32h.01M372.92 356.89h.01M373.16 354.78h.01M373.4 351.96h.01M373.64 351.53h.01M373.88 350.23h.01M374.12 349.69h.01M374.36 350.93h.01M374.6 347.58h.01M374.84 344.38h.01M375.08 343.73h.01M375.29 343.72h.01M375.5 349.5h.01M375.75 346.18h.01M376 346.67h.01M376.25 341.14h.01M376.5 342.34h.01M376.75 335.55h.01M377 340.92h.01M377.25 341.67h.01M377.5 339.12h.01M377.75 343.93h.01M378 344.11h.01M378.25 348.96h.01M378.5 349.16h.01M378.76 339.35h.01M379.02 331.12h.01M379.28 324.22h.01M379.52 325.75h.01M379.76 333.36h.01M380 336.78h.01M380.24 339.42h.01M380.48 344.34h.01M380.72 348.68h.01M381 334.14h.01M381.25 334.95h.01M381.5 328.48h.01M381.75 326.39h.01M382 321.55h.01M382.25 323.21h.01M382.5 319.95h.01M382.75 320.03h.01M383 313.74h.01M383.28 331.6h.01M383.52 328.48h.01M383.76 324.72h.01M384 320.87h.01M384.24 317.01h.01M384.48 311.65h.01M384.72 307.84h.01M385 320.69h.01M385.25 317.49h.01M385.5 312h.01M385.75 309.78h.01M386 304.37h.01M386.25 303.29h.01M386.5 304.75h.01M386.75 303.08h.01M387 304.19h.01M387.1 295.03h.01M387.36 300.69h.01M387.61 302.34h.01M387.87 306.85h.01M388.13 308.93h.01M388.39 310.57h.01M388.64 317.17h.01M388.9 319.78h.01M389.25 309.3h.01M389.5 307.77h.01M389.75 307.27h.01M390 311.27h.01M390.25 313.71h.01M390.5 311.18h.01M390.75 316.35h.01M391 312.89h.01M391.25 312.14h.01M391.5 307.69h.01M391.75 309.55h.01M391.97 310.94h.01M392.18 314.87h.01M392.4 317.5h.01M392.64 309.23h.01M392.88 305.82h.01M393.12 301.66h.01M393.36 298.18h.01M393.6 294.45h.01M393.75 293.89h.01M394 293.55h.01M394.25 296.2h.01M394.5 301.79h.01M394.75 291.12h.01M395 284.41h.01M395.25 275.22h.01M394.92 262.77h.01M395.16 262.52h.01M395.4 266.73h.01M395.64 272.98h.01M395.88 274.73h.01M396.12 275.79h.01M396.36 281.74h.01M396.6 281.59h.01M396.84 285.92h.01M397.08 292.22h.01M397.29 276.02h.01M397.5 260.5h.01M397.75 258.87h.01M398 258.97h.01M398.25 263.12h.01M398.5 263.31h.01M398.75 262.63h.01M399 264.2h.01M399.25 263.75h.01M399.5 266.72h.01M399.75 265.53h.01M400 266.58h.01M400.25 269.81h.01M400.5 265.51h.01M400.71 274.58h.01M400.92 288.53h.01M401.16 280.51h.01M401.4 273.71h.01M401.64 273.74h.01M401.88 272.48h.01M402.12 266.51h.01M402.36 260.64h.01M402.6 255.42h.01M402.84 252.72h.01M403.08 246.2h.01M403.29 245.06h.01M403.5 247.54h.01M403.75 248.96h.01M404 250.04h.01M404.25 248.87h.01M404.5 249.11h.01M404.75 247.42h.01M405 249.35h.01M405.25 249.76h.01M405.5 251.57h.01M405.75 253.04h.01M406 249.96h.01M406.25 253.64h.01M406.5 252.15h.01M406.76 251.82h.01M407.02 243.68h.01M407.28 241.58h.01M407.52 246.67h.01M407.76 250.58h.01M408 255.24h.01M408.24 258.05h.01M408.48 266.97h.01M408.72 269.63h.01M409 254.02h.01M409.25 251.6h.01M409.5 248.65h.01M409.75 244.83h.01M410 238.25h.01M410.25 241.44h.01M410.5 241.66h.01M410.75 244.04h.01M411 243.97h.01M411.28 257.14h.01M411.52 252.44h.01M411.76 249.94h.01M412 244.52h.01M412.24 240.14h.01M412.48 234.95h.01M412.72 233.11h.01M413 261.16h.01M413.25 262.09h.01M413.5 266.77h.01M413.75 266.37h.01M414 270.64h.01M414.25 266.84h.01M414.5 264.81h.01M414.75 265.83h.01M415 264.42h.01M415.1 242.98h.01M415.36 248.99h.01M415.61 256.55h.01M415.87 261.34h.01M416.13 262.95h.01M416.39 268.21h.01M416.64 275.79h.01M416.9 283.84h.01M417.25 268.57h.01M417.5 266.79h.01M417.75 267.89h.01M418 269.34h.01M418.25 267.27h.01M418.5 268.07h.01M418.75 264.7h.01M419 262.77h.01M419.25 262.74h.01M419.5 258.85h.01M419.75 256.69h.01M420.1 279.73h.01M420.36 277.61h.01M420.61 272.9h.01M420.87 270.15h.01M421.13 266.48h.01M421.39 263.53h.01M421.64 261.09h.01M421.9 259.61h.01M422.25 254.67h.01M422.5 256.06h.01M422.75 252.03h.01M423 249.59h.01M423.25 253.05h.01M423.5 249.32h.01M423.75 257.02h.01M424 258.3h.01M424.25 262.85h.01M424.5 269.47h.01M424.75 272.85h.01M424.97 262.09h.01M425.18 254.17h.01M425.4 243.95h.01M425.64 248.5h.01M425.88 254.19h.01M426.12 258.94h.01M426.36 267.2h.01M426.6 274.79h.01M426.75 260.58h.01M427 261.37h.01M427.25 259.59h.01M427.5 261.76h.01M427.75 248.06h.01M428 241.29h.01M428.25 229.52h.01M428.4 247.63h.01M428.64 243.29h.01M428.88 238.45h.01M429.12 233.86h.01M429.36 227.66h.01M429.6 221.8h.01M429.75 233.93h.01M430 229.05h.01M430.25 223.81h.01M430.5 220.82h.01M430.75 224.8h.01M431 221.99h.01M431.25 221.12h.01M431.28 199.62h.01M431.52 202.58h.01M431.76 205.83h.01M432 211.28h.01M432.24 212.18h.01M432.48 218.21h.01M432.72 216.11h.01M433 203.54h.01M433.25 213.45h.01M433.5 210.92h.01M433.75 212.2h.01M434 218.96h.01M434.25 211.69h.01M434.5 207h.01M434.75 205.26h.01M435 200.52h.01M435.28 213.77h.01M435.52 212.86h.01M435.76 209.16h.01M436 206.13h.01M436.24 205.28h.01M436.48 201.43h.01M436.72 198.18h.01M437 205.73h.01M437.25 203.55h.01M437.5 207.38h.01M437.75 207.01h.01M438 207.05h.01M438.25 205.79h.01M438.5 205.79h.01M438.75 207.86h.01M439 207.21h.01M439.28 183.66h.01M439.52 184.91h.01M439.76 191.71h.01M440 195.25h.01M440.24 200.15h.01M440.48 204.89h.01M440.72 211.54h.01M441 207.35h.01M441.25 212.08h.01M441.5 213.29h.01M441.75 214.07h.01M442 218.35h.01M442.25 218.92h.01M442.5 222.27h.01M442.75 225.52h.01M443 226.76h.01M442.92 243.98h.01M443.16 240.05h.01M443.4 234.7h.01M443.64 230.42h.01M443.88 227.61h.01M444.12 222.36h.01M444.36 216.04h.01M444.6 214.59h.01M444.84 207.45h.01M445.08 204.3h.01M445.2 242.95h.01M445.44 237.15h.01M445.68 229.81h.01M445.92 227.05h.01M446.16 218.49h.01M446.4 216.9h.01M446.64 221.66h.01M446.88 224.3h.01M447.12 227.94h.01M447.36 232.18h.01M447.6 230.56h.01M447.84 234.13h.01M448.08 234.38h.01M448.32 237.02h.01M448.56 242.77h.01M448.8 243.2h.01M449.1 195.61h.01M449.36 202.67h.01M449.61 211.48h.01M449.87 216.1h.01M450.13 225.97h.01M450.39 233.18h.01M450.64 241.54h.01M450.9 249.68h.01M451.25 243.28h.01M451.5 239.85h.01M451.75 237.87h.01M452 232.04h.01M452.25 229.49h.01M452.5 225.58h.01M452.75 228.15h.01M453 231.7h.01M453.25 234.07h.01M453.5 237.57h.01M453.75 240.73h.01M454.1 242.6h.01M454.36 238.86h.01M454.61 238.97h.01M454.87 239.35h.01M455.13 232.02h.01M455.39 230.57h.01M455.64 229.23h.01M455.9 228.99h.01M456.25 227.22h.01M456.5 223.55h.01M456.75 222.87h.01M457 216.68h.01M457.25 214.41h.01M457.5 207.66h.01M457.75 207.43h.01M458 203.18h.01M458.25 202.91h.01M458.5 198.71h.01M458.75 196.8h.01M458.97 187.29h.01M459.18 176.93h.01M459.4 165.89h.01M459.64 172.32h.01M459.88 176.69h.01M460.12 183.08h.01M460.36 188.52h.01M460.6 193.09h.01M460.75 171.07h.01M461 173.53h.01M461.25 172.45h.01M461.5 174.81h.01M461.75 170.8h.01M462 169.69h.01M462.25 165.08h.01M462.37 179.41h.01M462.62 172.26h.01M462.87 163.34h.01M463.13 157.64h.01M463.38 148.9h.01M463.63 141.08h.01M463.88 147.04h.01M464.09 153.48h.01M464.31 162.35h.01M464.53 165.55h.01M464.75 172.22h.01M464.97 175.87h.01M465.19 182.47h.01M465.41 187.22h.01M465.62 191.47h.01M465.69 153.7h.01M465.92 159.74h.01M466.15 165.13h.01M466.38 174.47h.01M466.62 175.52h.01M466.85 185.88h.01M467.08 189.89h.01M467.31 197.96h.01M467.4 196.46h.01M467.62 195.57h.01M467.85 198.38h.01M468.07 194.7h.01M468.3 193.78h.01M468.52 192.57h.01M468.75 189.55h.01M468.98 183.05h.01M469.2 182.15h.01M469.43 187.44h.01M469.65 193.26h.01M469.88 198.13h.01M470.1 202.63h.01M470.4 220.91h.01M470.64 213.87h.01M470.88 200.71h.01M471.12 194.82h.01M471.36 181.54h.01M471.6 170.78h.01M471.38 209.55h.01M471.56 216.9h.01M471.75 217.47h.01M471.94 226.87h.01M472.12 241.42h.01M471.9 236.08h.01M472.14 236.31h.01M472.38 242.88h.01M472.62 245.64h.01M472.86 246.02h.01M473.1 253.16h.01M473.12 233.42h.01M473.33 241.24h.01M473.54 244.92h.01M473.75 251.42h.01M473.96 244.23h.01M474.17 241.62h.01M474.38 234.22h.01M474.1 262.57h.01M474.36 259.16h.01M474.61 251.9h.01M474.87 248.91h.01M475.13 245.17h.01M475.39 242.13h.01M475.64 237.84h.01M475.9 234.59h.01M476.25 246.44h.01M476.5 246.61h.01M476.75 243.92h.01M477 241.51h.01M477.25 242.77h.01M477.5 240.94h.01M477.75 238.14h.01M478 238.24h.01M478.25 234.09h.01M478.5 235.12h.01M478.75 232.13h.01M479.1 223.14h.01M479.36 229.1h.01M479.61 231.9h.01M479.87 232.34h.01M480.13 235.34h.01M480.39 237.3h.01M480.64 241.59h.01M480.9 243.55h.01M481.25 237.04h.01M481.5 234.8h.01M481.75 233.46h.01M482 232.42h.01M482.25 231.05h.01M482.5 230.91h.01M482.75 229.32h.01M483 232.46h.01M483.25 229.68h.01M483.5 231.3h.01M483.75 229.24h.01M483.97 234.66h.01M484.18 238.86h.01M484.4 245.79h.01M484.64 232.77h.01M484.88 230.17h.01M485.12 221.26h.01M485.36 217.1h.01M485.6 207.87h.01M485.62 244.85h.01M485.83 238.02h.01M486.04 230.89h.01M486.25 227.39h.01M486.46 227.74h.01M486.67 227.65h.01M486.88 225.47h.01M486.6 232.42h.01M486.86 233.97h.01M487.11 236.9h.01M487.37 239.81h.01M487.63 247.14h.01M487.89 246.18h.01M488.14 247.8h.01M488.4 252.73h.01M488.75 232.42h.01M489 235.92h.01M489.25 235.76h.01M489.5 236.81h.01M489.75 237.57h.01M490 238.32h.01M490.25 233.3h.01M490.5 227.35h.01M490.75 223.18h.01M491 219.31h.01M491.25 217.14h.01M491.46 228.76h.01M491.66 236.75h.01M491.87 244.55h.01M492.12 239.5h.01M492.37 228.96h.01M492.63 217.75h.01M492.88 208.63h.01M493.13 195.74h.01M493.38 215.89h.01M493.59 227.54h.01M493.81 236.81h.01M494.03 241.61h.01M494.25 252.17h.01M494.47 255.31h.01M494.69 251.72h.01M494.91 249.87h.01M495.12 254.57h.01M495.4 242.51h.01M495.64 246.43h.01M495.88 254.06h.01M496.12 255.57h.01M496.36 262.25h.01M496.6 268.38h.01M496.38 254.67h.01M496.56 258.2h.01M496.75 263.07h.01M496.94 257.05h.01M497.12 248.5h.01M496.6 265.05h.01M496.86 259.56h.01M497.11 257.36h.01M497.37 253.49h.01M497.63 251.43h.01M497.89 243.7h.01M498.14 243.07h.01M498.4 241.34h.01M498.75 255.32h.01M499 250.29h.01M499.25 243.62h.01M499.5 239.12h.01M499.75 237.02h.01M500 231.75h.01M500.25 234.12h.01M500.5 237.55h.01M500.75 234.73h.01M501 236.65h.01M501.25 237.87h.01M501.6 216.06h.01M501.86 220.27h.01M502.11 227.15h.01M502.37 231.9h.01M502.63 237.66h.01M502.89 245.53h.01M503.14 250.71h.01M503.4 253.68h.01M503.75 242.43h.01M504 244.05h.01M504.25 243.22h.01M504.5 244.49h.01M504.75 244.04h.01M505 242.87h.01M505.25 243.91h.01M505.5 239.84h.01M505.75 242.33h.01M506 239.61h.01M506.25 238.53h.01M506.47 237.23h.01M506.68 238.44h.01M506.9 237.32h.01M507.14 229.24h.01M507.38 229.28h.01M507.62 224.61h.01M507.86 219.49h.01M508.1 215.09h.01M508.12 221.34h.01M508.33 218.76h.01M508.54 222.22h.01M508.75 224.32h.01M508.96 219.95h.01M509.17 220.21h.01M509.38 215.2h.01M509.28 206.37h.01M509.52 211.36h.01M509.76 216.98h.01M510 223.68h.01M510.24 226.68h.01M510.48 234.9h.01M510.72 240.01h.01M511 204.64h.01M511.25 201.92h.01M511.5 205.27h.01M511.75 206.93h.01M512 207.21h.01M512.25 203.12h.01M512.5 205.95h.01M512.75 207.12h.01M513 208.05h.01M513.18 205.88h.01M513.37 205.54h.01M513.62 197.9h.01M513.87 190.26h.01M514.13 191.98h.01M514.38 182.5h.01M514.63 180.4h.01M514.88 193.66h.01M515.09 193.18h.01M515.31 190.69h.01M515.53 186.71h.01M515.75 186.74h.01M515.97 185.82h.01M516.19 184.75h.01M516.41 184.02h.01M516.62 184.41h.01M516.9 164.3h.01M517.14 167.59h.01M517.38 170.92h.01M517.62 174.35h.01M517.86 180.66h.01M518.1 184.2h.01M518.12 168.62h.01M518.33 167.65h.01M518.54 169.95h.01M518.75 167.19h.01M518.96 167.51h.01M519.17 168.09h.01M519.38 169.14h.01M519.28 178.03h.01M519.52 176.85h.01M519.76 174.36h.01M520 174.43h.01M520.24 170.69h.01M520.48 169.97h.01M520.72 164.31h.01M521 166.46h.01M521.25 167.63h.01M521.5 166.02h.01M521.75 165.67h.01M522 164.89h.01M522.25 164.93h.01M522.5 165.87h.01M522.75 167.85h.01M523 168.99h.01M523.2 163.38h.01M523.4 151.7h.01M523.64 161.36h.01M523.88 170.04h.01M524.12 177.02h.01M524.36 186.62h.01M524.6 195.18h.01M524.25 170.49h.01M524.5 163.13h.01M524.75 151.2h.01M524.1 168.21h.01M524.36 162.38h.01M524.61 157.86h.01M524.87 153.47h.01M525.13 150.23h.01M525.39 146.86h.01M525.64 141.3h.01M525.9 137.89h.01M526.25 159.29h.01M526.5 156.63h.01M526.75 159.67h.01M527 156.1h.01M527.25 154.72h.01M527.5 156.25h.01M527.75 153.61h.01M528 150.77h.01M528.25 146.48h.01M528.5 144.83h.01M528.75 142.96h.01M528.92 132.19h.01M529.16 132.49h.01M529.4 132.37h.01M529.64 138.84h.01M529.88 139.57h.01M530.12 139.83h.01M530.36 143.49h.01M530.6 145.58h.01M530.84 145.69h.01M531.08 145.92h.01M531.29 139.89h.01M531.5 130.38h.01M531.75 131.22h.01M532 133.53h.01M532.25 131.36h.01M532.5 129.64h.01M532.75 131.33h.01M533 130.89h.01M533.25 131.01h.01M533.5 133.62h.01M533.75 137.47h.01M534 137.19h.01M534.25 137.85h.01M534.5 139.2h.01M534.83 139.19h.01M535.09 134.76h.01M535.35 136.59h.01M535.61 134.74h.01M535.87 134.78h.01M536.13 133.44h.01M536.39 132.43h.01M536.65 129.87h.01M536.91 131.67h.01M537.17 131.32h.01M537.4 127.88h.01M537.62 124.84h.01M537.86 127.43h.01M538.09 125.32h.01M538.32 128.04h.01M538.55 130.52h.01M538.79 131.72h.01M539.02 132.4h.01M539.25 132.85h.01M539.48 131.55h.01M539.71 131.76h.01M539.95 131.93h.01M540.18 131.33h.01M540.41 129.95h.01M540.64 129.32h.01M540.88 129.15h.01M541.09 122.04h.01M541.3 119h.01M541.51 112.43h.01M541.76 116.26h.01M542 116.29h.01M542.25 121.83h.01M542.5 125.93h.01M542.75 128.08h.01M543 131.27h.01M543.24 133.29h.01M543.49 135.48h.01M543.68 123.62h.01M543.88 117.89h.01M544.1 120.39h.01M544.33 121.09h.01M544.56 125.36h.01M544.79 124.55h.01M545.02 129.47h.01M545.25 130.18h.01M545.48 124.54h.01M545.71 118.8h.01M545.94 115.65h.01M546.17 112.74h.01M546.4 110.19h.01M546.62 110.16h.01M546.86 117.83h.01M547.1 134.76h.01M547.36 128.42h.01M547.61 123.42h.01M547.87 119.89h.01M548.13 115.87h.01M548.39 111.97h.01M548.64 106.88h.01M548.9 101.72h.01M549.25 105.48h.01M549.5 106.13h.01M549.75 108.12h.01M550 107.47h.01M550.25 109.77h.01M550.5 110.93h.01M550.75 109.17h.01M551 106.05h.01M551.25 102.42h.01M551.5 99.73h.01M551.75 95.93h.01M551.97 96.49h.01M552.19 91.59h.01M552.42 98.92h.01M552.65 101.67h.01M552.88 106.62h.01M553.12 110.53h.01M553.35 119.83h.01M553.58 120.96h.01M553.81 126.49h.01M554.12 109.35h.01M554.35 104.67h.01M554.58 97.57h.01M554.8 96.23h.01M555.02 87.84h.01M555.25 85.09h.01M555.48 80.94h.01M555.7 74.07h.01M555.92 74.95h.01M556.15 73.01h.01M556.38 70.19h.01M556.62 76.73h.01M556.87 85.9h.01M557.12 80.96h.01M557.37 73.14h.01M557.63 69.03h.01M557.88 63.15h.01M558.13 58.29h.01M558.38 58.22h.01M558.59 62.84h.01M558.81 65.46h.01M559.03 68.53h.01M559.25 71.99h.01M559.47 72.05h.01M559.69 73.34h.01M559.91 69.96h.01M560.12 69.8h.01M560.28 62.81h.01M560.52 64.4h.01M560.76 68.44h.01M561 69.36h.01M561.24 73.13h.01M561.48 76.28h.01M561.72 79.9h.01M562 69.96h.01M562.25 71.41h.01M562.5 68.57h.01M562.75 67.7h.01M563 70.17h.01M563.25 72.65h.01M563.5 73.96h.01M563.75 73.58h.01M564 73.07h.01M564.28 80.06h.01M564.52 72.67h.01M564.76 66.32h.01M565 63.96h.01M565.24 56.57h.01M565.48 50.96h.01M565.72 48.6h.01M566 82.67h.01M566.25 79.67h.01M566.5 78.25h.01M566.75 78.85h.01M567 78.9h.01M567.25 74.12h.01M567.5 72.74h.01M567.75 71.79h.01M568 69.25h.01M568.2 70.97h.01M568.4 69.12h.01M568.64 69.72h.01M568.88 81.53h.01M569.12 84.32h.01M569.36 92.04h.01M569.6 94.99h.01M569.38 95.25h.01M569.56 93.63h.01M569.75 99.25h.01M569.94 104.26h.01M570.12 105.2h.01M569.9 148.31h.01M570.14 141.63h.01M570.38 135.29h.01M570.62 128.18h.01M570.86 123.55h.01M571.1 118.28h.01M571.12 143.4h.01M571.33 156.98h.01M571.54 160.83h.01M571.75 170.98h.01M571.96 165.42h.01M572.17 160.03h.01M572.38 154.3h.01M572.37 155.77h.01M572.62 166.71h.01M572.87 180.99h.01M573.13 196.54h.01M573.38 209.08h.01M573.63 221.88h.01M573.88 164.63h.01M574.09 160.95h.01M574.31 161.45h.01M574.53 160.05h.01M574.75 159.75h.01M574.97 159.63h.01M575.19 160.46h.01M575.41 159.15h.01M575.62 164.74h.01M575.87 160.86h.01M576.12 156.36h.01M576.37 145.7h.01M576.63 137.07h.01M576.88 130.72h.01M577.13 122.55h.01M577.38 143.51h.01M577.59 145.47h.01M577.81 147.12h.01M578.03 145.94h.01M578.25 148.61h.01M578.47 147.88h.01M578.69 146.29h.01M578.91 148.34h.01M579.12 150.57h.01M579.1 127.61h.01M579.36 132.92h.01M579.61 134.81h.01M579.87 138.56h.01M580.13 145.86h.01M580.39 148.34h.01M580.64 156h.01M580.9 155.79h.01M581.25 129.5h.01M581.5 135.77h.01M581.75 131.14h.01M582 133.1h.01M582.25 137.68h.01M582.5 137.91h.01M582.75 138.91h.01M583 141.04h.01M583.25 138.84h.01M583.5 139.28h.01M583.75 140.46h.01M584.1 138.34h.01M584.36 128.81h.01M584.61 123.17h.01M584.87 114.25h.01M585.13 106.75h.01M585.39 96.28h.01M585.64 88.21h.01M585.9 79.98h.01M586.25 102.06h.01M586.5 113.21h.01M586.75 122.65h.01M587 128.92h.01M587.25 142.23h.01M587.5 152.18h.01M587.75 152.32h.01M588 152.94h.01M588.25 154.81h.01M588.5 150.81h.01M588.75 155.51h.01M589.1 148.9h.01M589.36 152.36h.01M589.61 153.75h.01M589.87 155.91h.01M590.13 159.73h.01M590.39 164.52h.01M590.64 171.75h.01M590.9 171.03h.01M591.25 140.16h.01M591.5 141.96h.01M591.75 141.84h.01M592 139.9h.01M592.25 140.8h.01M592.5 142.14h.01M592.75 139.89h.01M593 138.7h.01M593.25 136.59h.01M593.5 136.66h.01M593.75 135.91h.01M594.1 139.88h.01M594.36 135.53h.01M594.61 133.29h.01M594.87 123.91h.01M595.13 117.8h.01M595.39 112.5h.01M595.64 108.82h.01M595.9 104.08h.01M596.25 137.59h.01M596.5 134.24h.01M596.75 125.04h.01M597 121.15h.01M597.25 115.5h.01M597.5 109.71h.01M597.75 113.39h.01M598 111.49h.01M598.25 113.63h.01M598.5 112.69h.01M598.75 116.43h.01M599.1 82.69h.01M599.36 88.66h.01M599.61 96.27h.01M599.87 103.2h.01M600.13 112.12h.01M600.39 119.59h.01M600.64 127.13h.01M600.9 133.99h.01M601.25 123.4h.01M601.5 120.41h.01M601.75 118.45h.01M602 115.97h.01M602.25 112.64h.01M602.5 113.04h.01M602.75 114.61h.01M603 113.68h.01M603.25 112.13h.01M603.5 109.41h.01M603.75 109.39h.01M604.1 104.07h.01M604.36 102h.01M604.61 97.67h.01M604.87 93.9h.01M605.13 91.75h.01M605.39 88.44h.01M605.64 82.41h.01M605.9 78.97h.01M606.25 99.34h.01M606.5 101.62h.01M606.75 102.2h.01M607 105.76h.01M607.25 105.09h.01M607.5 108.22h.01M607.75 109.52h.01M608 107.03h.01M608.25 108.67h.01M608.5 106.68h.01M608.75 108.92h.01M609.01 107.54h.01M609.28 110.93h.01M609.52 113.74h.01M609.76 115.11h.01M610 116.96h.01M610.24 123.76h.01M610.48 125.1h.01M610.72 130.16h.01M611 122.06h.01M611.25 115.28h.01M611.5 117.03h.01M611.75 114.17h.01M612 113.44h.01M612.25 110.47h.01M612.5 109.97h.01M612.75 110.98h.01M613 108.78h.01M613.18 105.07h.01M613.37 104.03h.01M613.62 101.63h.01M613.87 100.45h.01M614.13 98.32h.01M614.38 97.37h.01M614.63 93.44h.01M614.88 98.17h.01M615.09 93.34h.01M615.31 90.14h.01M615.53 86.64h.01M615.75 81.4h.01M615.97 86.43h.01M616.19 86.55h.01M616.41 90.27h.01M616.62 90.01h.01M616.6 66.74h.01M616.86 69.38h.01M617.11 71.5h.01M617.37 75.13h.01M617.63 77.55h.01M617.89 78.55h.01M618.14 82.72h.01M618.4 88.03h.01M618.75 93.05h.01M619 93.81h.01M619.25 96.02h.01M619.5 98.96h.01M619.75 97.79h.01M620 100.75h.01M620.25 100.77h.01M620.5 100.34h.01M620.75 98.59h.01M621 95.75h.01M621.25 98.35h.01M621.6 118.96h.01M621.86 116.08h.01M622.11 109.87h.01M622.37 109.98h.01M622.63 105.82h.01M622.89 101.17h.01M623.14 96.72h.01M623.4 94.5h.01M623.75 112.73h.01M624 111.56h.01M624.25 107.18h.01M624.5 105.06h.01M624.75 104.56h.01M625 102.04h.01M625.25 106.76h.01M625.5 107.86h.01M625.75 113.7h.01M626 117.18h.01M626.25 116.9h.01M626.47 111.33h.01M626.68 105.01h.01M626.9 95.14h.01M627.14 101.99h.01M627.38 105.65h.01M627.62 111.48h.01M627.86 116.26h.01M628.1 121.53h.01M628.12 135.99h.01M628.33 132.93h.01M628.54 131.5h.01M628.75 133.41h.01M628.96 137.31h.01M629.17 137.53h.01M629.38 142.37h.01M629.28 186.19h.01M629.52 179.64h.01M629.76 173.62h.01M630 168.04h.01M630.24 162.28h.01M630.48 160.91h.01M630.72 153.79h.01M631 167.17h.01M631.25 168.89h.01M631.5 170.17h.01M631.75 172.72h.01M632 172.73h.01M632.25 172.74h.01M632.5 173.1h.01M632.75 173.43h.01M633 177.35h.01M633.18 171.45h.01M633.37 160.74h.01M633.62 165.31h.01M633.87 168.25h.01M634.13 172.78h.01M634.38 175.62h.01M634.63 180.65h.01M634.88 168.89h.01M635.09 162.47h.01M635.31 159.66h.01M635.53 153.23h.01M635.75 151.22h.01M635.97 154.47h.01M636.19 155.93h.01M636.41 158.31h.01M636.62 162.92h.01M636.6 167.43h.01M636.86 164.09h.01M637.11 158.2h.01M637.37 154.02h.01M637.63 151.73h.01M637.89 145.87h.01M638.14 140.48h.01M638.4 138.34h.01M638.75 143.78h.01M639 144.5h.01M639.25 152.26h.01M639.5 157.07h.01M639.75 161.68h.01M640 170.2h.01M640.25 165.53h.01M640.5 164.44h.01M640.75 158.68h.01M641 153.7h.01M641.25 150.29h.01M641.47 150.73h.01M641.68 148.74h.01M641.9 147.29h.01M642.14 154.47h.01M642.38 161.04h.01M642.62 169.47h.01M642.86 173.77h.01M643.1 181.67h.01M643.12 169.59h.01M643.33 178.89h.01M643.54 185.54h.01M643.75 194.79h.01M643.96 190.53h.01M644.17 189.04h.01M644.38 186.23h.01M644.1 215h.01M644.36 212.15h.01M644.61 208.87h.01M644.87 205.51h.01M645.13 203.29h.01M645.39 203.02h.01M645.64 197.59h.01M645.9 194h.01M646.25 197.47h.01M646.5 200.38h.01M646.75 200.28h.01M647 202.5h.01M647.25 203.75h.01M647.5 206.8h.01M647.75 206.41h.01M648 208.63h.01M648.25 209.58h.01M648.5 209.22h.01M648.75 208.88h.01M648.92 197.1h.01M649.16 201.84h.01M649.4 203.42h.01M649.64 201.65h.01M649.88 205.65h.01M650.12 206.01h.01M650.36 211.98h.01M650.6 211.03h.01M650.84 210.77h.01M651.08 213.51h.01M651.29 210.72h.01M651.5 209.03h.01M651.75 209.84h.01M652 207.75h.01M652.25 209.52h.01M652.5 205.85h.01M652.75 207.28h.01M653 203.61h.01M653.25 206.26h.01M653.5 208.25h.01M653.75 207.37h.01M654 209.9h.01M654.25 209.44h.01M654.5 212.5h.01M654.8 210.34h.01M655.1 208.86h.01M655.36 205.76h.01M655.61 204.55h.01M655.87 203.14h.01M656.13 198.35h.01M656.39 192.09h.01M656.64 190.01h.01M656.9 185.44h.01M657.25 194.67h.01M657.5 197.37h.01M657.75 194.85h.01M658 197.6h.01M658.25 202.77h.01M658.5 200.08h.01M658.75 197.87h.01M659 194.37h.01M659.25 192.26h.01M659.5 193.32h.01M659.75 185.24h.01M660.1 184.86h.01M660.36 185.43h.01M660.61 189.14h.01M660.87 185.45h.01M661.13 188.95h.01M661.39 193.19h.01M661.64 192.92h.01M661.9 192.97h.01M662.25 179.71h.01M662.5 177.53h.01M662.75 180.07h.01M663 179.72h.01M663.25 179h.01M663.5 178.78h.01M663.75 174.58h.01M664 173.22h.01M664.25 168.94h.01M664.5 168.03h.01M664.75 166.26h.01M665.1 174.11h.01M665.36 174.47h.01M665.61 169.77h.01M665.87 165.82h.01M666.13 161.47h.01M666.39 160.36h.01M666.64 155.23h.01M666.9 154.43h.01M667.25 173.08h.01M667.5 173.18h.01M667.75 173.92h.01M668 175.78h.01M668.25 173.87h.01M668.5 174.42h.01M668.75 173.97h.01M669 172.55h.01M669.25 175.77h.01M669.5 173.43h.01M669.75 175.67h.01M670.01 170.87h.01M670.28 165.04h.01M670.52 171.66h.01M670.76 172.17h.01M671 173.76h.01M671.24 180.29h.01M671.48 183.72h.01M671.72 187.49h.01M672 181.77h.01M672.25 180.8h.01M672.5 179.17h.01M672.75 177.82h.01M673 176.52h.01M673.25 174.67h.01M673.5 171.37h.01M673.75 169.87h.01M674 171.17h.01M674.1 183.1h.01M674.36 181.06h.01M674.61 173.33h.01M674.87 170.5h.01M675.13 171.54h.01M675.39 167.06h.01M675.64 161.32h.01M675.9 162.13h.01M676.25 178.13h.01M676.5 184.25h.01M676.75 186.28h.01M677 190.91h.01M677.25 194.11h.01M677.5 196.51h.01M677.75 198.12h.01M678 204.01h.01M678.25 202.45h.01M678.5 204.2h.01M678.75 207.11h.01M679.1 201.27h.01M679.36 201.96h.01M679.61 207.91h.01M679.87 206.25h.01M680.13 205.98h.01M680.39 211.37h.01M680.64 212.98h.01M680.9 215.48h.01M681.25 207.39h.01M681.5 208.02h.01M681.75 211.31h.01M682 212.56h.01M682.25 216.85h.01M682.5 219.06h.01M682.75 220.36h.01M683 225.59h.01M683.25 223.05h.01M683.5 222.3h.01M683.75 225.13h.01M683.92 228.45h.01M684.16 226.7h.01M684.4 223.73h.01M684.64 220.27h.01M684.88 216.82h.01M685.12 216.41h.01M685.36 214.44h.01M685.6 210.16h.01M685.84 209.98h.01M686.08 208.72h.01M686.29 211.04h.01M686.5 213.92h.01M686.75 214.35h.01M687 213.37h.01M687.25 213.86h.01M687.5 214.38h.01M687.75 213.55h.01M688 210.22h.01M688.25 210.22h.01M688.5 206.07h.01M688.75 206.85h.01M689 204.78h.01M689.25 203.98h.01M689.5 201.16h.01M689.38 195.47h.01M689.63 196.91h.01M689.88 200.89h.01M690.13 199.72h.01M690.38 200.01h.01M690.63 202.22h.01M690.88 205.88h.01M691.12 205.24h.01M691.37 203.03h.01M691.62 205.03h.01M691.87 209.04h.01M692.12 209.81h.01M692.37 210.72h.01M692.62 213.2h.01M692.83 210.32h.01M693.04 207.51h.01M693.25 203.58h.01M693.5 203.35h.01M693.75 204.86h.01M694 205.46h.01M694.25 203.13h.01M694.5 204.23h.01M694.75 201.89h.01M695 202.67h.01M695.25 202.01h.01M695.5 204.3h.01M695.75 205.47h.01M696 204.24h.01M696.25 204.47h.01M696.5 205.53h.01M696.75 207.66h.01M697 204.97h.01M697.25 203.78h.01M697.5 204.54h.01M697.75 202.15h.01M698 206.61h.01M698.26 210.47h.01M698.51 212.51h.01M698.77 212.99h.01M699.02 213.91h.01M699.28 216.37h.01M699.52 209.18h.01M699.76 208.6h.01M700 202.81h.01M700.24 196.92h.01M700.48 195.08h.01M700.72 188.25h.01M701 193.85h.01M701.25 206.76h.01M701.5 215.24h.01M701.75 223.15h.01M702 237.05h.01M702.25 233.63h.01M702.5 231.17h.01M702.75 232.68h.01M703 228.26h.01M703.1 218.7h.01M703.36 222.05h.01M703.61 225.48h.01M703.87 231.49h.01M704.13 240.76h.01M704.39 243.36h.01M704.64 254.18h.01M704.9 251.7h.01M705.25 235.49h.01M705.5 235.9h.01M705.75 242h.01M706 244.42h.01M706.25 246.47h.01M706.5 252.59h.01M706.75 251.74h.01M707 250.37h.01M707.25 248.87h.01M707.5 246.2h.01M707.75 243.63h.01M708.1 264.55h.01M708.36 256.7h.01M708.61 251.07h.01M708.87 243.09h.01M709.13 241.07h.01M709.39 235.49h.01M709.64 228.44h.01M709.9 221.22h.01M710.25 243.63h.01M710.5 244.26h.01M710.75 247.17h.01M711 246.34h.01M711.25 248.82h.01M711.5 248.24h.01M711.75 243.97h.01M712 239.63h.01M712.25 235.17h.01M712.5 230.23h.01M712.75 227.49h.01M712.96 228h.01M713.16 225.19h.01M713.37 226.93h.01M713.62 231.8h.01M713.87 237.14h.01M714.13 244.76h.01M714.38 248.64h.01M714.63 252.34h.01M714.88 236.55h.01M715.09 232.23h.01M715.31 229.97h.01M715.53 229.71h.01M715.75 225.13h.01M715.97 229.71h.01M716.19 226.57h.01M716.41 230.67h.01M716.62 233.01h.01M716.6 226.89h.01M716.86 223.31h.01M717.11 219.68h.01M717.37 216.8h.01M717.63 214.44h.01M717.89 214.12h.01M718.14 210.52h.01M718.4 208.74h.01M718.75 227.3h.01M719 220.35h.01M719.25 218.67h.01M719.5 217.45h.01M719.75 214.12h.01M720 211.84h.01M720.25 212.74h.01M720.5 210.79h.01M720.75 215.2h.01M721 214.72h.01M721.25 214.75h.01M721.15 203.65h.01M721.4 204.29h.01M721.64 209.74h.01M721.89 212.2h.01M722.13 214.55h.01M722.38 216.33h.01M722.62 219.72h.01M722.87 221.69h.01M723.11 225.9h.01M723.36 227.61h.01M723.6 230.98h.01M723.85 233.72h.01M724.11 222.33h.01M724.38 209.95h.01M724.61 214.33h.01M724.84 215.76h.01M725.08 215.33h.01M725.31 214.19h.01M725.55 216.93h.01M725.78 219.67h.01M726.02 223.32h.01M726.25 221.67h.01M726.48 226.13h.01M726.72 226.26h.01M726.95 228.32h.01M727.19 227.44h.01M727.42 230.86h.01M727.66 232.66h.01M727.89 233h.01M728.12 235.87h.01M728.39 237.53h.01M728.65 241.18h.01M728.9 239.96h.01M729.14 238.67h.01M729.39 238.32h.01M729.63 236.67h.01M729.88 231.49h.01M730.12 227.45h.01M730.37 230.17h.01M730.61 226.87h.01M730.86 224.58h.01M731.1 225.01h.01M731.35 223.25h.01M731.61 226.55h.01M731.88 234.7h.01M732.11 230.17h.01M732.34 227.43h.01M732.58 227.65h.01M732.81 220.71h.01M733.05 226.9h.01M733.28 221.5h.01M733.52 218.3h.01M733.75 217.66h.01M733.98 215.2h.01M734.22 213.05h.01M734.45 211.68h.01M734.69 207.63h.01M734.92 208.82h.01M735.16 206.45h.01M735.39 203.13h.01M735.62 202.79h.01M735.87 200.08h.01M736.11 195.01h.01M736.36 189.06h.01M736.6 188.37h.01M736.86 189.69h.01M737.11 192.88h.01M737.37 197.98h.01M737.63 204.18h.01M737.89 208.7h.01M738.14 210.53h.01M738.4 214.2h.01M738.75 190.45h.01M739 191.99h.01M739.25 192.97h.01M739.5 197.57h.01M739.75 202.21h.01M740 201.97h.01M740.25 201.42h.01M740.5 203.54h.01M740.75 203.93h.01M741 204.06h.01M741.25 207.87h.01M740.97 205.25h.01M741.23 200.17h.01M741.48 202.52h.01M741.74 200.76h.01M741.99 198.1h.01M742.25 199.63h.01M742.5 196.82h.01M742.75 193.59h.01M743.01 193.65h.01M743.26 192.89h.01M743.52 190.07h.01M743.77 188.8h.01M744.03 187.29h.01M744.33 191.05h.01M744.62 186.17h.01M744.86 188.33h.01M745.1 189.86h.01M745.33 191.66h.01M745.57 190.44h.01M745.81 195.21h.01M746.04 196.12h.01M746.28 197.15h.01M746.51 199.4h.01M746.75 197.35h.01M746.99 197.59h.01M747.22 197.17h.01M747.46 193.34h.01M747.69 190.73h.01M747.93 189.33h.01M748.17 188.74h.01M748.4 187.46h.01M748.64 183.15h.01M748.88 179.49h.01M749.11 178.3h.01M749.34 180.93h.01M749.58 179.07h.01M749.81 177.13h.01M750.05 178.76h.01M750.28 178.2h.01M750.52 184.03h.01M750.76 190.04h.01M751 190.34h.01M751.24 197.47h.01M751.48 201.38h.01M751.72 208.33h.01M752 191.69h.01M752.25 195.3h.01M752.5 192.85h.01M752.75 194.78h.01M753 196.47h.01M753.25 199.24h.01M753.5 203.33h.01M753.75 207.7h.01M754 211.11h.01M754.28 222.82h.01M754.52 223.01h.01M754.76 217.96h.01M755 214.13h.01M755.24 210.58h.01M755.48 207.29h.01M755.72 206.01h.01M756 217.16h.01M756.25 218.65h.01M756.5 219.78h.01M756.75 225.61h.01M757 225.73h.01M757.25 225.55h.01M757.5 231.16h.01M757.75 231.75h.01M758 234.92h.01M758.18 233.3h.01M758.37 232.47h.01M758.62 236.28h.01M758.87 239.56h.01M759.13 238.22h.01M759.38 243.87h.01M759.63 248.63h.01M759.88 239.33h.01M760.09 242.84h.01M760.31 243.82h.01M760.53 247.02h.01M760.75 254.01h.01M760.97 252.31h.01M761.19 250.51h.01M761.41 248.1h.01M761.62 248.89h.01M761.9 266.28h.01M762.14 262.86h.01M762.38 260.62h.01M762.62 256.65h.01M762.86 255.18h.01M763.1 249.82h.01M763.12 263.19h.01M763.33 262.06h.01M763.54 259.51h.01M763.75 258.69h.01M763.96 257.32h.01M764.17 259.18h.01M764.38 259.94h.01M764.1 260.1h.01M764.36 261.42h.01M764.61 262.4h.01M764.87 264.88h.01M765.13 265.52h.01M765.39 270.48h.01M765.64 272.15h.01M765.9 275.11h.01M766.25 263.62h.01M766.5 264.87h.01M766.75 264.94h.01M767 262.65h.01M767.25 264.91h.01M767.5 260.17h.01M767.75 260.37h.01M768 260.19h.01M768.25 260.25h.01M768.5 258.89h.01M768.75 258.34h.01M769.1 264.51h.01M769.36 264.32h.01M769.61 262.17h.01M769.87 262.19h.01M770.13 261.77h.01M770.39 253.36h.01M770.64 252.96h.01M770.9 255.18h.01M771.25 251.12h.01M771.5 250.18h.01M771.75 249.29h.01M772 250.44h.01M772.25 247.27h.01M772.5 249.89h.01M772.75 246.99h.01M773 240.47h.01M773.25 239.51h.01M773.5 234.62h.01M773.75 229.48h.01M774.1 215.35h.01M774.36 222.27h.01M774.61 229.34h.01M774.87 234.09h.01M775.13 240.61h.01M775.39 246.33h.01M775.64 253.63h.01M775.9 260.46h.01M776.25 232.45h.01M776.5 238.07h.01M776.75 238.22h.01M777 244.06h.01M777.25 246.7h.01M777.5 253.28h.01M777.75 250.12h.01M778 254.9h.01M778.25 253.22h.01M778.5 253.96h.01M778.75 254.22h.01M778.92 262.05h.01M779.16 261.62h.01M779.4 259.76h.01M779.64 258.81h.01M779.88 260.2h.01M780.12 255.46h.01M780.36 254.9h.01M780.6 253.5h.01M780.84 254.66h.01M781.08 253.21h.01M781.29 258.11h.01M781.5 260.25h.01M781.75 263.81h.01M782 263.41h.01M782.25 264.48h.01M782.5 265.78h.01M782.75 268.14h.01M783 267.49h.01M783.25 267.42h.01M783.5 270.2h.01M783.75 267.02h.01M784 266.49h.01M784.25 267.62h.01M784.5 268.79h.01M784.76 260.19h.01M785.02 261.9h.01M785.28 260.02h.01M785.52 262.46h.01M785.76 261.04h.01M786 267.7h.01M786.24 271.48h.01M786.48 274.56h.01M786.72 278.18h.01M787 271.58h.01M787.25 262.76h.01M787.5 259.69h.01M787.75 256.36h.01M788 251.33h.01M788.25 253.84h.01M788.5 252.47h.01M788.75 252.93h.01M789 256.07h.01M788.92 253.16h.01M789.16 251.24h.01M789.4 251.42h.01M789.64 247.95h.01M789.88 248.4h.01M790.12 244.37h.01M790.36 241.25h.01M790.6 240.63h.01M790.84 241.36h.01M791.08 238.03h.01M791.29 245.43h.01M791.5 251.32h.01M791.75 253.68h.01M792 253.72h.01M792.25 253.61h.01M792.5 250.66h.01M792.75 255.83h.01M793 254.78h.01M793.25 253.1h.01M793.5 251.66h.01M793.75 252.39h.01M794 249.6h.01M794.25 249.49h.01M794.5 245.14h.01M794.8 244.86h.01M795.1 244.56h.01M795.36 247.6h.01M795.61 248.89h.01M795.87 250.55h.01M796.13 252.21h.01M796.39 252.77h.01M796.64 255.13h.01M796.9 254.83h.01M797.25 244.39h.01M797.5 244.14h.01M797.75 242.91h.01M798 245.83h.01M798.25 243.85h.01M798.5 243.01h.01M798.75 240.59h.01M799 239.54h.01M799.25 234.92h.01M799.5 234.78h.01M799.75 231.91h.01M800.01 233.97h.01M800.28 233.4h.01M800.52 230.47h.01M800.76 231.98h.01M801 228.23h.01M801.24 228.92h.01M801.48 229h.01M801.72 225.8h.01M802 242.14h.01M802.25 242.79h.01M802.5 244.55h.01M802.75 243.61h.01M803 248.24h.01M803.25 247.05h.01M803.5 246.6h.01M803.75 249.44h.01M804 245.7h.01M803.65 252.34h.01M803.9 253.81h.01M804.14 254.68h.01M804.39 257.16h.01M804.63 254.1h.01M804.88 259.93h.01M805.12 257.01h.01M805.37 258.84h.01M805.61 262.47h.01M805.86 263.04h.01M806.1 263.5h.01M806.35 263.44h.01M806.61 260.18h.01M806.88 255.98h.01M807.11 257.49h.01M807.34 257.2h.01M807.58 256.03h.01M807.81 257.62h.01M808.05 257.61h.01M808.28 258.84h.01M808.52 261.94h.01M808.75 260.77h.01M808.98 259.12h.01M809.22 260.59h.01M809.45 257.87h.01M809.69 258.69h.01M809.92 258.35h.01M810.16 257.02h.01M810.39 255.84h.01M810.62 255.97h.01M810.86 259.08h.01M811.1 260.22h.01M811.33 264.77h.01M811.59 261.5h.01M811.85 259.3h.01M812.11 260.09h.01M812.37 257.77h.01M812.63 256.93h.01M812.89 257.59h.01M813.15 256.1h.01M813.41 252.51h.01M813.67 252.27h.01M813.9 250.86h.01M814.12 252.82h.01M814.36 249.71h.01M814.59 252.41h.01M814.82 254.38h.01M815.05 251.57h.01M815.29 254.11h.01M815.52 253.26h.01M815.75 254.23h.01M815.98 255.09h.01M816.21 252.55h.01M816.45 252.22h.01M816.68 252.99h.01M816.91 248.96h.01M817.14 252.05h.01M817.38 249.89h.01M817.62 246.43h.01M817.87 244.93h.01M818.12 244.69h.01M818.37 242.54h.01M818.62 243.51h.01M818.87 246.73h.01M819.13 249.11h.01M819.38 250.14h.01M819.63 251.73h.01M819.88 244.82h.01M820.09 242.79h.01M820.31 239.53h.01M820.53 238.18h.01M820.75 235.36h.01M820.97 235.3h.01M821.19 234.47h.01M821.41 233.93h.01M821.62 233.84h.01M821.87 230.28h.01M822.12 228.93h.01M822.37 228.93h.01M822.63 228.69h.01M822.88 227.94h.01M823.13 226.65h.01M823.38 226.32h.01M823.59 222.14h.01M823.81 217.76h.01M824.03 214.83h.01M824.25 210.36h.01M824.47 210.66h.01M824.69 211.73h.01M824.91 209.92h.01M825.12 207.5h.01M825.28 194.94h.01M825.52 197.79h.01M825.76 202.98h.01M826 205.91h.01M826.24 209.28h.01M826.48 212.81h.01M826.72 218.58h.01M827 210.73h.01M827.25 214.06h.01M827.5 212.34h.01M827.75 214.74h.01M828 221.22h.01M828.25 217.45h.01M828.5 219.91h.01M828.75 219.02h.01M829 220.6h.01M829.1 223.91h.01M829.36 219.26h.01M829.61 217.22h.01M829.87 214.39h.01M830.13 219.14h.01M830.39 213.57h.01M830.64 212.23h.01M830.9 211.08h.01M831.25 215.84h.01M831.5 216.56h.01M831.75 215.82h.01M832 221.01h.01M832.25 221.87h.01M832.5 223.3h.01M832.75 226.72h.01M833 226.4h.01M833.25 226.17h.01M833.5 230.65h.01M833.75 231.16h.01M834.1 227.19h.01M834.36 226.26h.01M834.61 225.99h.01M834.87 229.66h.01M835.13 230.84h.01M835.39 230.54h.01M835.64 233.18h.01M835.9 236.39h.01M836.25 223.43h.01M836.5 222.28h.01M836.75 222.15h.01M837 221.34h.01M837.25 222.3h.01M837.5 220.4h.01M837.75 218.53h.01M838 219.11h.01M838.25 215.97h.01M838.5 209.05h.01M838.75 209.06h.01M839.1 212.3h.01M839.36 213.16h.01M839.61 208.14h.01M839.87 209.64h.01M840.13 206.13h.01M840.39 204.08h.01M840.64 197.72h.01M840.9 198.26h.01M841.25 200.56h.01M841.5 200.67h.01M841.75 199.62h.01M842 205.4h.01M842.25 199.42h.01M842.5 200.59h.01M842.75 203.41h.01M843 201.45h.01M843.25 200.59h.01M843.5 201.09h.01M843.75 204.07h.01M844.1 205.68h.01M844.36 208.29h.01M844.61 210.73h.01M844.87 212.73h.01M845.13 218.62h.01M845.39 224.06h.01M845.64 225.88h.01M845.9 232.93h.01M846.25 210.9h.01M846.5 209.65h.01M846.75 209.65h.01M847 206.46h.01M847.25 204.73h.01M847.5 204.05h.01M847.75 202.11h.01M848 202.23h.01M848.25 198.44h.01M848.5 195.3h.01M848.75 197.15h.01M849.1 204.48h.01M849.36 201.21h.01M849.61 193.37h.01M849.87 189.73h.01M850.13 182.98h.01M850.39 179.28h.01M850.64 176.26h.01M850.9 172.25h.01M851.25 179.12h.01M851.5 181.1h.01M851.75 180.52h.01M852 182.46h.01M852.25 180.19h.01M852.5 180.03h.01M852.75 181.16h.01M853 186.17h.01M853.25 183.49h.01M853.5 186.51h.01M853.75 185.41h.01M854.1 184.81h.01M854.36 186.8h.01M854.61 188.54h.01M854.87 192.04h.01M855.13 197.09h.01M855.39 201.11h.01M855.64 208.72h.01M855.9 209.83h.01M856.25 204.72h.01M856.5 205.83h.01M856.75 207.56h.01M857 209.48h.01M857.25 212.84h.01M857.5 208.75h.01M857.75 210.35h.01M858 214.36h.01M858.25 213.59h.01M858.5 214.07h.01M858.75 213.45h.01M859.1 218.49h.01M859.36 216.68h.01M859.61 213.03h.01M859.87 210.68h.01M860.13 211.23h.01M860.39 207.94h.01M860.64 205.56h.01M860.9 202.14h.01M861.25 207.67h.01M861.5 206.44h.01M861.75 207.34h.01M862 209.21h.01M862.25 208h.01M862.5 210.8h.01M862.75 212.54h.01M863 214.49h.01M863.25 218.2h.01M863.5 222.54h.01M863.75 224.25h.01M864.1 216.24h.01M864.36 216.2h.01M864.61 216.86h.01M864.87 220.53h.01M865.13 221.92h.01M865.39 225.67h.01M865.64 226.81h.01M865.9 227.81h.01M866.25 219.94h.01M866.5 224.53h.01M866.75 223.42h.01M867 222.11h.01M867.25 223.23h.01M867.5 225.32h.01M867.75 224.85h.01M868 222.23h.01M868.25 222.3h.01M868.5 220.28h.01M868.75 218.74h.01M869.1 233.43h.01M869.36 232.75h.01M869.61 227.1h.01M869.87 221.41h.01M870.13 217.82h.01M870.39 213.4h.01M870.64 208.9h.01M870.9 206.51h.01M871.25 216.49h.01M871.5 216.02h.01M871.75 220.38h.01M872 215.43h.01M872.25 215.91h.01M872.5 214.64h.01M872.75 213.07h.01M873 213.22h.01M873.25 213.1h.01M873.5 209.7h.01M873.75 208.79h.01M874.1 193.09h.01M874.36 195.88h.01M874.61 205.75h.01M874.87 206.35h.01M875.13 211.47h.01M875.39 213.85h.01M875.64 218.61h.01M875.9 221.67h.01M876.25 208.91h.01M876.5 206.06h.01M876.75 206.25h.01M877 202.34h.01M877.25 198.79h.01M877.5 195.76h.01M877.75 196.73h.01M878 199.54h.01M878.25 202.44h.01M878.5 204.54h.01M878.75 209.89h.01M879.1 209.44h.01M879.36 206.98h.01M879.61 206h.01M879.87 205.61h.01M880.13 201.08h.01M880.39 199.81h.01M880.64 195.84h.01M880.9 194.76h.01M881.25 209.65h.01M881.5 210.13h.01M881.75 207.63h.01M882 203.3h.01M882.25 200.1h.01M882.5 199.32h.01M882.75 198.61h.01M883 200.51h.01M883.25 204.53h.01M883.5 204.89h.01M883.75 207.82h.01M884.01 203.24h.01M884.28 196.86h.01M884.52 201.86h.01M884.76 204.16h.01M885 209.53h.01M885.24 213.49h.01M885.48 219.77h.01M885.72 220.68h.01M886 220.92h.01M886.25 217.56h.01M886.5 217.48h.01M886.75 215.86h.01M887 216.35h.01M887.25 214.55h.01M887.5 210.76h.01M887.75 210.39h.01M888 212.21h.01M888.28 238.3h.01M888.52 232.99h.01M888.76 229.25h.01M889 225.72h.01M889.24 219.9h.01M889.48 213.91h.01M889.72 211.44h.01M890 218.7h.01M890.25 219.78h.01M890.5 223.75h.01M890.75 223.96h.01M891 228.6h.01M891.25 226.11h.01M891.5 221.1h.01M891.75 219.1h.01M892 220.83h.01M892.28 221.48h.01M892.52 224.75h.01M892.76 230.52h.01M893 233.21h.01M893.24 233.65h.01M893.48 239.53h.01M893.72 244.12h.01M894 246.11h.01M894.25 242.15h.01M894.5 244.48h.01M894.75 241.94h.01M895 244.15h.01M895.25 243.2h.01M895.5 243.17h.01M895.75 242.35h.01M896 242.48h.01M896.28 251.67h.01M896.52 248.52h.01M896.76 242.79h.01M897 241.22h.01M897.24 236.95h.01M897.48 232.96h.01M897.72 230.28h.01M898 247.83h.01M898.25 247.13h.01M898.5 249.24h.01M898.75 247.9h.01M899 247.49h.01M899.25 245.77h.01M899.5 244.87h.01M899.75 242.6h.01M900 243.44h.01M900.28 235.74h.01M900.52 237.92h.01M900.76 244.9h.01M901 248.41h.01M901.24 249.79h.01M901.48 250.69h.01M901.72 255.71h.01M902 249.78h.01M902.25 246.16h.01M902.5 246.38h.01M902.75 246.51h.01M903 243.62h.01M903.25 247.18h.01M903.5 248.63h.01M903.75 251.23h.01M904 253.11h.01M904.2 251.99h.01M904.4 253.97h.01M904.64 249.38h.01M904.88 247.73h.01M905.12 239.79h.01M905.36 237.94h.01M905.6 231.74h.01M905.75 246.98h.01M906 239.9h.01M906.25 233.39h.01M906.5 224.31h.01M906.75 232.94h.01M907 238.08h.01M907.25 243.44h.01M907.4 209.2h.01M907.64 216.33h.01M907.88 220.62h.01M908.12 228.72h.01M908.36 236.46h.01M908.6 242.74h.01M908.75 229.81h.01M909 230.8h.01M909.25 229.97h.01M909.5 225.81h.01M909.75 224.36h.01M910 225.85h.01M910.25 223.75h.01M910.4 224.97h.01M910.64 220.74h.01M910.88 214.29h.01M911.12 209.37h.01M911.36 205.58h.01M911.6 197.07h.01M911.75 210.62h.01M912 212.88h.01M912.25 221.43h.01M912.5 222.02h.01M912.75 224.82h.01M913 221.16h.01M913.25 223.86h.01M913.4 202.1h.01M913.64 208.44h.01M913.88 212.23h.01M914.12 212.31h.01M914.36 222.68h.01M914.6 226.86h.01M914.75 223.36h.01M915 225.95h.01M915.25 221.87h.01M915.5 226.45h.01M915.75 224.07h.01M916 229.09h.01M916.25 228.33h.01M916.28 236.85h.01M916.52 232.8h.01M916.76 227.44h.01M917 221.68h.01M917.24 220.08h.01M917.48 216.8h.01M917.72 212.25h.01M918 225.26h.01M918.25 227.45h.01M918.5 230.76h.01M918.75 230.77h.01M919 237.1h.01M919.25 232.45h.01M919.5 226.62h.01M919.75 224.9h.01M920 223.8h.01M920.28 227.24h.01M920.52 229.4h.01M920.76 230.86h.01M921 235.35h.01M921.24 240.77h.01M921.48 244.81h.01M921.72 247.95h.01M922 234.22h.01M922.25 236.3h.01M922.5 236.66h.01M922.75 238.73h.01M923 240.03h.01M923.25 233.83h.01M923.5 232.5h.01M923.75 231.84h.01M924 230.65h.01M924.2 239.62h.01M924.4 252.08h.01M924.64 244.09h.01M924.88 241.55h.01M925.12 239.03h.01M925.36 235.7h.01M925.6 233.24h.01M925.75 235.22h.01M926 236.33h.01M926.25 231.97h.01M926.5 234.6h.01M926.75 233.53h.01M927 234.57h.01M927.25 231.87h.01M927.4 204.83h.01M927.64 215.92h.01M927.88 220.62h.01M928.12 227.63h.01M928.36 233.31h.01M928.6 239.29h.01M928.75 211.36h.01M929 212.27h.01M929.25 220.08h.01M929.5 224.97h.01M929.75 219.33h.01M930 215.39h.01M930.25 209h.01M929.8 211.07h.01M930.04 210.98h.01M930.28 207.53h.01M930.52 205.53h.01M930.76 203.48h.01M931 202.07h.01M931.24 198.59h.01M931.48 199.04h.01M931.72 193.6h.01M931.96 194.07h.01M932.2 190.75h.01" fill="none" stroke="#000" stroke-width="5.5" stroke-linecap="round"/>
<circle cx="589.4" cy="173" r="2.75" fill="#000"/>
<circle cx="495" cy="285" r="2.75" fill="#000"/>
<circle cx="497.5" cy="292.5" r="2.75" fill="#000"/>
<circle cx="567" cy="39" r="2.75" fill="#000"/>
<circle cx="617.5" cy="62.5" r="2.75" fill="#000"/>
<circle cx="851" cy="167.5" r="2.75" fill="#000"/>
<circle cx="889" cy="257.5" r="2.75" fill="#000"/>
<circle cx="707.5" cy="265" r="2.75" fill="#000"/>
<circle cx="548" cy="84" r="2.75" fill="#000"/>
<circle cx="537" cy="92" r="2.75" fill="#000"/>
<circle cx="541" cy="94" r="2.75" fill="#000"/>
<circle cx="539" cy="98" r="2.75" fill="#000"/>
<circle cx="535" cy="102" r="2.75" fill="#000"/>
<circle cx="540" cy="104" r="2.75" fill="#000"/>
<circle cx="537.5" cy="111" r="2.75" fill="#000"/>
<circle cx="541" cy="112" r="2.75" fill="#000"/>
<circle cx="533" cy="119" r="2.75" fill="#000"/>
<circle cx="537" cy="120" r="2.75" fill="#000"/>
<circle cx="528" cy="127" r="2.75" fill="#000"/>
<circle cx="547" cy="96" r="2.75" fill="#000"/>
<circle cx="551" cy="98" r="2.75" fill="#000"/>
<circle cx="548" cy="107" r="2.75" fill="#000"/>
<path d="M120 483 C120.62 483.67 122.29 487.4 123.75 487 C125.21 486.6 127.29 481.35 128.75 480.6 C130.21 479.85 131.36 480.93 132.5 482.5 C133.64 484.07 134.14 490.62 135.6 490 C137.06 489.38 139.89 480 141.25 478.75 C142.61 477.5 142.5 484.38 143.75 482.5 C145 480.62 147.29 469.79 148.75 467.5 C150.21 465.21 151.04 469.83 152.5 468.75 C153.96 467.67 156.04 462.67 157.5 461 C158.96 459.33 159.79 460.92 161.25 458.75 C162.71 456.58 164.58 449.29 166.25 448 C167.92 446.71 169.79 450.57 171.25 451 C172.71 451.43 173.75 452.43 175 450.6 C176.25 448.77 177.71 442.81 178.75 440 C179.79 437.19 180 433.96 181.25 433.75 C182.5 433.54 184.58 438.96 186.25 438.75 C187.92 438.54 189.38 431.98 191.25 432.5 C193.12 433.02 195.42 441.69 197.5 441.9 C199.58 442.11 202.08 434.27 203.75 433.75 C205.42 433.23 206.04 439.79 207.5 438.75 C208.96 437.71 210.83 428.64 212.5 427.5 C214.17 426.36 214.79 432.94 217.5 431.9 C220.21 430.86 225.83 421.77 228.75 421.25 C231.67 420.73 232.5 429.48 235 428.75 C237.5 428.02 241.25 418.04 243.75 416.9 C246.25 415.76 248.33 420.97 250 421.9 C251.67 422.83 252.5 421.57 253.75 422.5 C255 423.43 256.25 425.32 257.5 427.5 C258.75 429.68 260 435.5 261.25 435.6 C262.5 435.7 263.75 428.62 265 428.1 C266.25 427.58 267.08 433.64 268.75 432.5 C270.42 431.36 273.33 422.82 275 421.25 C276.67 419.68 277.29 423.93 278.75 423.1 C280.21 422.27 282.29 417.28 283.75 416.25 C285.21 415.22 286.14 418.36 287.5 416.9 C288.86 415.44 290.23 408.33 291.9 407.5 C293.57 406.67 295.94 411.9 297.5 411.9 C299.06 411.9 299.79 410.32 301.25 407.5 C302.71 404.68 304.58 396.57 306.25 395 C307.92 393.43 309.58 398.62 311.25 398.1 C312.92 397.58 314.17 391.68 316.25 391.9 C318.33 392.12 321.46 400.13 323.75 399.4 C326.04 398.67 328.33 389.07 330 387.5 C331.67 385.93 332.71 392.08 333.75 390 C334.79 387.92 334.38 379.17 336.25 375 C338.12 370.83 342.29 368.54 345 365 C347.71 361.46 350.21 356.04 352.5 353.75 C354.79 351.46 357.08 352.71 358.75 351.25 C360.42 349.79 360.62 348.96 362.5 345 C364.38 341.04 368.33 330.21 370 327.5 C371.67 324.79 371.04 330.21 372.5 328.75 C373.96 327.29 376.88 319.79 378.75 318.75 C380.62 317.71 381.88 324.79 383.75 322.5 C385.62 320.21 388.33 308.12 390 305 C391.67 301.88 392.5 307.08 393.75 303.75 C395 300.42 396.04 288.75 397.5 285 C398.96 281.25 400.83 283.54 402.5 281.25 C404.17 278.96 406.04 273.96 407.5 271.25 C408.96 268.54 409.79 268.96 411.25 265 C412.71 261.04 414.58 250.83 416.25 247.5 C417.92 244.17 419.58 247.08 421.25 245 C422.92 242.92 425 238.33 426.25 235 C427.5 231.67 427.92 227.83 428.75 225 C429.58 222.17 430.21 218.93 431.25 218 C432.29 217.07 433.75 219.69 435 219.4 C436.25 219.11 437.29 216.15 438.75 216.25 C440.21 216.35 442.29 218.12 443.75 220 C445.21 221.88 446.04 227.71 447.5 227.5 C448.96 227.29 451.04 219.58 452.5 218.75 C453.96 217.92 455 222.92 456.25 222.5 C457.5 222.08 458.96 217.67 460 216.25 C461.04 214.83 461.25 213.79 462.5 214 C463.75 214.21 465.83 217.33 467.5 217.5 C469.17 217.67 471.08 215 472.5 215 C473.92 215 474.75 217.67 476 217.5 C477.25 217.33 478.5 212.75 480 214 C481.5 215.25 483.33 225.67 485 225 C486.67 224.33 488.33 212.92 490 210 C491.67 207.08 493.5 207.5 495 207.5 C496.5 207.5 497.33 210.83 499 210 C500.67 209.17 503.17 202.5 505 202.5 C506.83 202.5 508.5 211.25 510 210 C511.5 208.75 512.5 199.17 514 195 C515.5 190.83 517.33 189.83 519 185 C520.67 180.17 522.58 170.17 524 166 C525.42 161.83 526.08 163.08 527.5 160 C528.92 156.92 530.83 152.5 532.5 147.5 C534.17 142.5 535.83 133.75 537.5 130 C539.17 126.25 540.83 125.83 542.5 125 C544.17 124.17 545.83 127.5 547.5 125 C549.17 122.5 551.08 113.33 552.5 110 C553.92 106.67 554.75 105.42 556 105 C557.25 104.58 558.5 108.5 560 107.5 C561.5 106.5 563.5 99.42 565 99 C566.5 98.58 567.75 102.33 569 105 C570.25 107.67 571.33 114.17 572.5 115 C573.67 115.83 574.75 109.58 576 110 C577.25 110.42 578.5 117.67 580 117.5 C581.5 117.33 583.33 109.58 585 109 C586.67 108.42 588.33 113.42 590 114 C591.67 114.58 593.33 112.96 595 112.5 C596.67 112.04 598.75 111.46 600 111.25 C601.25 111.04 600.93 109.38 602.5 111.25 C604.07 113.12 607.11 121.88 609.4 122.5 C611.69 123.12 614.07 113.96 616.25 115 C618.43 116.04 621.04 126.04 622.5 128.75 C623.96 131.46 623.75 129.38 625 131.25 C626.25 133.12 628.54 136.04 630 140 C631.46 143.96 632.08 151.38 633.75 155 C635.42 158.62 638.41 159.33 640 161.7 C641.59 164.07 642.05 168.52 643.3 169.2 C644.55 169.88 645.83 164.55 647.5 165.8 C649.17 167.05 651.77 175.17 653.3 176.7 C654.83 178.23 655.58 174.03 656.7 175 C657.82 175.97 658.75 181.53 660 182.5 C661.25 183.47 662.12 178.58 664.2 180.8 C666.28 183.02 670.15 194.13 672.5 195.8 C674.85 197.47 676.22 189.68 678.3 190.8 C680.38 191.92 683.18 200.42 685 202.5 C686.82 204.58 687.25 199.97 689.2 203.3 C691.15 206.63 694.62 220.13 696.7 222.5 C698.78 224.87 700.32 217.22 701.7 217.5 C703.08 217.78 703.48 224.48 705 224.2 C706.52 223.92 709 216.22 710.8 215.8 C712.6 215.38 714.13 221.42 715.8 221.7 C717.47 221.98 719.55 217.65 720.8 217.5 C722.05 217.35 722.18 220.93 723.3 220.8 C724.42 220.67 725.68 215.58 727.5 216.7 C729.32 217.82 732.12 226.95 734.2 227.5 C736.28 228.05 738.83 221.35 740 220 C741.17 218.65 740 217.94 741.25 219.4 C742.5 220.86 745.83 227.3 747.5 228.75 C749.17 230.2 750 227.06 751.25 228.1 C752.5 229.14 753.64 232.08 755 235 C756.36 237.92 757.94 244.87 759.4 245.6 C760.86 246.33 762.3 239.08 763.75 239.4 C765.2 239.72 766.43 247.72 768.1 247.5 C769.77 247.28 772.18 239.14 773.75 238.1 C775.32 237.06 776.04 241.56 777.5 241.25 C778.96 240.94 781.25 236.88 782.5 236.25 C783.75 235.62 783.75 238.44 785 237.5 C786.25 236.56 788.12 230.6 790 230.6 C791.88 230.6 793.85 238.43 796.25 237.5 C798.65 236.57 802.11 226.04 804.4 225 C806.69 223.96 808.44 230.52 810 231.25 C811.56 231.98 811.88 227.43 813.75 229.4 C815.62 231.38 819.38 242.17 821.25 243.1 C823.12 244.03 823.64 235.42 825 235 C826.36 234.58 827.63 241.75 829.4 240.6 C831.17 239.45 833.93 229.66 835.6 228.1 C837.27 226.54 838.15 231.45 839.4 231.25 C840.65 231.05 841.96 227.43 843.1 226.9 C844.24 226.38 844.68 229.15 846.25 228.1 C847.82 227.05 850.42 220.6 852.5 220.6 C854.58 220.6 856.46 228.93 858.75 228.1 C861.04 227.27 864.38 216.63 866.25 215.6 C868.12 214.57 868.54 221.27 870 221.9 C871.46 222.53 872.71 217.53 875 219.4 C877.29 221.27 881.46 232.07 883.75 233.1 C886.04 234.13 887.39 226.12 888.75 225.6 C890.11 225.08 890.54 231.03 891.9 230 C893.26 228.97 895.34 220.55 896.9 219.4 C898.46 218.25 899.69 223.32 901.25 223.1 C902.81 222.88 904.79 218.72 906.25 218.1 C907.71 217.48 908.54 220.43 910 219.4 C911.46 218.37 913.23 212.12 915 211.9 C916.77 211.68 918.31 219.04 920.6 218.1 C922.89 217.16 926.67 206.77 928.75 206.25 C930.83 205.73 931.64 213.96 933.1 215 C934.56 216.04 935.93 211.88 937.5 212.5 C939.07 213.12 941.33 217.08 942.5 218.75 C943.67 220.42 944.17 221.88 944.5 222.5" fill="none" stroke="#0072B2" stroke-width="2.08" stroke-linejoin="round" stroke-linecap="round"/>
<path d="M933.2 214.5 C935 212.5 936.5 212.3 938 213 C940 213.8 942 215.5 943.6 220" fill="none" stroke="#0072B2" stroke-width="5" stroke-linecap="butt"/>
<circle cx="937.5" cy="178.2" r="2.4" fill="#ff0000" fill-opacity="0.7" stroke="#ff0000" stroke-opacity="0.55" stroke-width="1.2"/>
<circle cx="937.5" cy="181" r="2.4" fill="#ff0000" fill-opacity="0.7" stroke="#ff0000" stroke-opacity="0.55" stroke-width="1.2"/>
<circle cx="937" cy="184" r="2.4" fill="#ff0000" fill-opacity="0.7" stroke="#ff0000" stroke-opacity="0.55" stroke-width="1.2"/>
<circle cx="936.5" cy="187" r="2.4" fill="#ff0000" fill-opacity="0.7" stroke="#ff0000" stroke-opacity="0.55" stroke-width="1.2"/>
<circle cx="935.5" cy="189.5" r="2.4" fill="#ff0000" fill-opacity="0.7" stroke="#ff0000" stroke-opacity="0.55" stroke-width="1.2"/>
<circle cx="938" cy="190" r="2.4" fill="#ff0000" fill-opacity="0.7" stroke="#ff0000" stroke-opacity="0.55" stroke-width="1.2"/>
<circle cx="935" cy="193" r="2.4" fill="#ff0000" fill-opacity="0.7" stroke="#ff0000" stroke-opacity="0.55" stroke-width="1.2"/>
<circle cx="938.5" cy="193.5" r="2.4" fill="#ff0000" fill-opacity="0.7" stroke="#ff0000" stroke-opacity="0.55" stroke-width="1.2"/>
<circle cx="939.3" cy="197.1" r="2.4" fill="#ff0000" fill-opacity="0.7" stroke="#ff0000" stroke-opacity="0.55" stroke-width="1.2"/>
<circle cx="939.4" cy="207.8" r="2.4" fill="#ff0000" fill-opacity="0.7" stroke="#ff0000" stroke-opacity="0.55" stroke-width="1.2"/>
<circle cx="939.4" cy="210.5" r="2.4" fill="#ff0000" fill-opacity="0.7" stroke="#ff0000" stroke-opacity="0.55" stroke-width="1.2"/>
<rect x="79.5" y="15.5" width="906.0" height="527.0" fill="none" stroke="#000" stroke-width="1.11" stroke-linejoin="miter"/>
<g stroke="#000" stroke-width="1.11"><line x1="124.5" y1="542.5" x2="124.5" y2="547.36"/><line x1="249.06" y1="542.5" x2="249.06" y2="547.36"/><line x1="373.8" y1="542.5" x2="373.8" y2="547.36"/><line x1="498.36" y1="542.5" x2="498.36" y2="547.36"/><line x1="623.1" y1="542.5" x2="623.1" y2="547.36"/><line x1="747.66" y1="542.5" x2="747.66" y2="547.36"/><line x1="872.4" y1="542.5" x2="872.4" y2="547.36"/><line x1="74.64" y1="446.4" x2="79.5" y2="446.4"/><line x1="74.64" y1="350.4" x2="79.5" y2="350.4"/><line x1="74.64" y1="254.4" x2="79.5" y2="254.4"/><line x1="74.64" y1="158.4" x2="79.5" y2="158.4"/><line x1="74.64" y1="62.4" x2="79.5" y2="62.4"/></g>
<g font-family="Liberation Sans, sans-serif" font-size="13.9" fill="#000" style="will-change:transform"><text x="124.5" y="562" text-anchor="middle" textLength="35.6" lengthAdjust="spacingAndGlyphs">2013</text><text x="249.06" y="562" text-anchor="middle" textLength="35.6" lengthAdjust="spacingAndGlyphs">2015</text><text x="373.8" y="562" text-anchor="middle" textLength="35.6" lengthAdjust="spacingAndGlyphs">2017</text><text x="498.36" y="562" text-anchor="middle" textLength="35.6" lengthAdjust="spacingAndGlyphs">2019</text><text x="623.1" y="562" text-anchor="middle" textLength="35.6" lengthAdjust="spacingAndGlyphs">2021</text><text x="747.66" y="562" text-anchor="middle" textLength="35.6" lengthAdjust="spacingAndGlyphs">2023</text><text x="872.4" y="562" text-anchor="middle" textLength="35.6" lengthAdjust="spacingAndGlyphs">2025</text><text x="69.2" y="452.1" text-anchor="end" textLength="26.5" lengthAdjust="spacingAndGlyphs">200</text><text x="69.2" y="356.1" text-anchor="end" textLength="26.5" lengthAdjust="spacingAndGlyphs">400</text><text x="69.2" y="260.1" text-anchor="end" textLength="26.5" lengthAdjust="spacingAndGlyphs">600</text><text x="69.2" y="164.1" text-anchor="end" textLength="26.5" lengthAdjust="spacingAndGlyphs">800</text><text x="69.2" y="68.1" text-anchor="end" textLength="34.0" lengthAdjust="spacingAndGlyphs">1000</text><text x="532.5" y="581.7" text-anchor="middle">ds</text><text transform="translate(24.4 279) rotate(-90)" text-anchor="middle">y</text></g></svg>
</body></html>
